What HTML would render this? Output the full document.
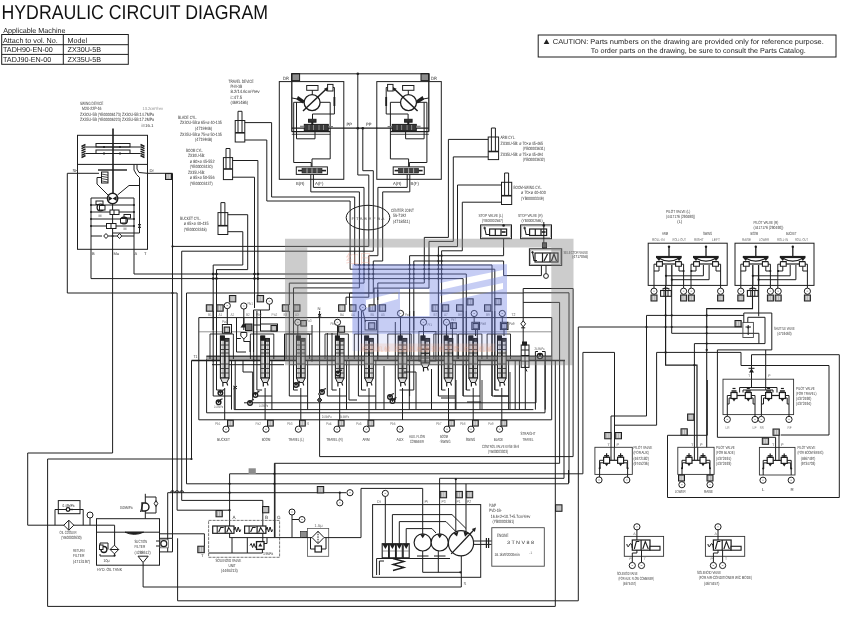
<!DOCTYPE html>
<html lang="en"><head><meta charset="utf-8"><title>HYDRAULIC CIRCUIT DIAGRAM</title>
<style>
html,body{margin:0;padding:0;background:#fff;}
body{width:868px;height:618px;overflow:hidden;position:relative;font-family:"Liberation Sans",sans-serif;}
svg{position:absolute;left:0;top:0;display:block;will-change:transform;}
svg text{font-family:"Liberation Sans",sans-serif;stroke:none;text-rendering:geometricPrecision;}
</style></head><body>
<svg width="868" height="618" viewBox="0 0 868 618" fill="none" stroke="#1e1e1e" stroke-width="1" stroke-linejoin="miter">
<text x="1.5" y="18.8" font-size="20" fill="#111" textLength="266.5" lengthAdjust="spacingAndGlyphs">HYDRAULIC CIRCUIT DIAGRAM</text>
<text x="3.2" y="33.3" font-size="7.2" fill="#222">Applicable Machine</text>
<rect x="1.7" y="34.5" width="126.6" height="29.8"/>
<polyline points="1.7,44.7 128.3,44.7"/>
<polyline points="1.7,54.4 128.3,54.4"/>
<polyline points="63.3,34.5 63.3,64.3"/>
<text x="3" y="42.6" font-size="7.2" fill="#222">Attach to vol. No.</text>
<text x="67.5" y="42.6" font-size="7.2" fill="#222">Model</text>
<text x="3" y="52.3" font-size="7.2" fill="#222">TADH90-EN-00</text>
<text x="67.5" y="52.3" font-size="7.2" fill="#222">ZX30U-5B</text>
<text x="3" y="62.1" font-size="7.2" fill="#222">TADJ90-EN-00</text>
<text x="67.5" y="62.1" font-size="7.2" fill="#222">ZX35U-5B</text>
<rect x="538.2" y="35" width="297.8" height="22"/>
<polygon points="546.5,39 549.3,44 543.7,44" fill="#222" stroke="none"/>
<text x="552.8" y="44" font-size="7.1" fill="#222" textLength="271" lengthAdjust="spacingAndGlyphs">CAUTION: Parts numbers on the drawing are provided only for reference purpose.</text>
<text x="590.8" y="52.7" font-size="7.1" fill="#222" textLength="215" lengthAdjust="spacingAndGlyphs">To order parts on the drawing, be sure to consult the Parts Catalog.</text>
<text x="80" y="104.8" font-size="4.6" fill="#333" textLength="23.4" lengthAdjust="spacingAndGlyphs">SWING DEVICE</text>
<text x="82" y="110.3" font-size="4.6" fill="#333" textLength="19.5" lengthAdjust="spacingAndGlyphs">M2X-22P-16</text>
<text x="80" y="115.8" font-size="4.6" fill="#333" textLength="74.1" lengthAdjust="spacingAndGlyphs">ZX30U-5B (YB00006173) ZX30U-5B:14.7MPa</text>
<text x="80" y="121.3" font-size="4.6" fill="#333" textLength="74.1" lengthAdjust="spacingAndGlyphs">ZX35U-5B (YB00006223) ZX35U-5B:17.2MPa</text>
<text x="142.5" y="110.3" font-size="4.4" fill="#888" textLength="20.5" lengthAdjust="spacingAndGlyphs">13.2cm³/rev</text>
<text x="141.5" y="126.6" font-size="4.4" fill="#333" textLength="12" lengthAdjust="spacingAndGlyphs">i=16.1</text>
<rect x="77.5" y="135.3" width="70" height="114"/>
<polyline points="77.5,164.4 147.5,164.4"/>
<polyline points="113,128.5 113,193.5" stroke-width="1.6"/>
<polyline points="85.5,147 140.5,147"/>
<polyline points="85.5,153.5 140.5,153.5"/>
<rect x="96" y="143.5" width="34" height="3.5"/>
<rect x="96" y="150" width="34" height="3.5"/>
<polyline points="104,146 104,148" stroke-width="1.6"/>
<polyline points="104,152.5 104,154.5" stroke-width="1.6"/>
<polyline points="120,146 120,148" stroke-width="1.6"/>
<polyline points="120,152.5 120,154.5" stroke-width="1.6"/>
<polyline points="81.5,146.5 85.5,144.5" stroke-width="1.5"/>
<polyline points="140.5,144.5 144.5,146.5" stroke-width="1.5"/>
<polyline points="81.5,148.7 85.5,146.7" stroke-width="1.5"/>
<polyline points="140.5,146.7 144.5,148.7" stroke-width="1.5"/>
<polyline points="81.5,150.9 85.5,148.9" stroke-width="1.5"/>
<polyline points="140.5,148.9 144.5,150.9" stroke-width="1.5"/>
<polyline points="81.5,153.1 85.5,151.1" stroke-width="1.5"/>
<polyline points="140.5,151.1 144.5,153.1" stroke-width="1.5"/>
<polyline points="81.5,155.3 85.5,153.3" stroke-width="1.5"/>
<polyline points="140.5,153.3 144.5,155.3" stroke-width="1.5"/>
<polyline points="81.5,157.5 85.5,155.5" stroke-width="1.5"/>
<polyline points="140.5,155.5 144.5,157.5" stroke-width="1.5"/>
<polyline points="67.3,173.3 99,173.3"/>
<polyline points="67.3,173.3 67.3,293 172.3,293"/>
<polyline points="147.5,173.3 172.5,173.3"/>
<rect x="165.5" y="173.5" width="6" height="6" fill="#ababab"/>
<polyline points="167.9,174.5 167.9,178.5" stroke-width="0.8" stroke="#e8e8e8"/>
<polyline points="169.7,174.5 169.7,178.5" stroke-width="0.8" stroke="#e8e8e8"/>
<text x="72.5" y="171.5" font-size="4.2" fill="#333">SH</text>
<text x="149.5" y="171.5" font-size="4.2" fill="#333">Dr</text>
<polyline points="98,170 127,170" stroke-width="1.4"/>
<rect x="101.5" y="172" width="6.5" height="11"/>
<polyline points="101.5,174 108,175.2" stroke-width="0.8"/>
<polyline points="101.5,176.3 108,177.5" stroke-width="0.8"/>
<polyline points="101.5,178.6 108,179.8" stroke-width="0.8"/>
<polyline points="101.5,180.9 108,182.1" stroke-width="0.8"/>
<polyline points="101.5,177.5 97,177.5 97,184 108.5,195.5"/>
<polyline points="134,164.4 134,170 136.5,174.5 139.5,177.5"/>
<polyline points="139.5,177.5 139.5,233"/>
<polyline points="137,164.4 137,169 139,172.5 147.5,173.3"/>
<polyline points="117.5,195 129,185.5 139.5,185.5"/>
<circle cx="112.6" cy="198.5" r="5.2" fill="#fff" stroke-width="1.4"/>
<polygon points="108.5,196 112.6,198.5 108.5,201" fill="#1e1e1e" stroke="none"/>
<polygon points="116.7,196 112.6,198.5 116.7,201" fill="#1e1e1e" stroke="none"/>
<polyline points="107.5,198 91,198 91,278.6"/>
<polyline points="117.7,198 134,198 134,274"/>
<polyline points="91,205 134,205"/>
<polyline points="91,212 134,212"/>
<polyline points="91,219 134,219"/>
<polyline points="91,226 134,226"/>
<polyline points="91,236 102,236"/>
<polyline points="122,236 134,236"/>
<polyline points="112.6,203.7 112.6,236"/>
<polyline points="112.6,236 112.6,453"/>
<rect x="96" y="201" width="7" height="3.5"/>
<circle cx="100.5" cy="207.5" r="3.4" fill="#fff" stroke-width="1.3"/>
<rect x="99.5" y="205.5" width="5.5" height="4.5" fill="#fff"/>
<rect x="110" y="210" width="9" height="4.5" fill="#fff"/>
<polyline points="114,210 114,214.5"/>
<circle cx="124" cy="220.5" r="3.4" fill="#fff" stroke-width="1.3"/>
<rect x="120.5" y="218.5" width="5.5" height="4.5" fill="#fff"/>
<rect x="124" y="214.5" width="6.5" height="3.5"/>
<rect x="106.5" y="223.5" width="9.5" height="5" fill="#fff"/>
<polyline points="111,223.5 111,228.5"/>
<text x="98.5" y="216.5" font-size="3.6" fill="#333">M</text>
<text x="123.5" y="230" font-size="3.6" fill="#333">M</text>
<circle cx="91" cy="205" r="1" fill="#1e1e1e" stroke="none"/>
<circle cx="134" cy="205" r="1" fill="#1e1e1e" stroke="none"/>
<circle cx="91" cy="212" r="1" fill="#1e1e1e" stroke="none"/>
<circle cx="134" cy="212" r="1" fill="#1e1e1e" stroke="none"/>
<circle cx="91" cy="219" r="1" fill="#1e1e1e" stroke="none"/>
<circle cx="134" cy="219" r="1" fill="#1e1e1e" stroke="none"/>
<circle cx="91" cy="226" r="1" fill="#1e1e1e" stroke="none"/>
<circle cx="134" cy="226" r="1" fill="#1e1e1e" stroke="none"/>
<circle cx="112.6" cy="236" r="1" fill="#1e1e1e" stroke="none"/>
<polygon points="106,233.5 108.3,236 106,238.5 103.7,236" fill="#fff"/>
<polygon points="119.5,233.5 121.8,236 119.5,238.5 117.2,236" fill="#fff"/>
<polyline points="108.3,236 117.2,236"/>
<polyline points="112.6,233 139.5,233"/>
<polyline points="138.3,224 140.7,228"/>
<polyline points="140.7,224 138.3,228"/>
<text x="92" y="255" font-size="4" fill="#333">B</text>
<text x="113.5" y="255" font-size="4" fill="#333">Mu</text>
<text x="134.5" y="255" font-size="4" fill="#333">A</text>
<text x="144" y="255" font-size="4" fill="#333">T</text>
<rect x="235.2" y="120.5" width="9.6" height="21.5" fill="#fff"/>
<polyline points="238,111.3 238,132.8"/>
<polyline points="242,111.3 242,132.8"/>
<polyline points="238,111.3 242,111.3"/>
<polyline points="235.2,132.8 244.8,132.8" stroke-width="1.6"/>
<polyline points="244.8,122.6 271.6,122.6 271.6,197 354.7,197 354.7,265 492,265 492,396"/>
<polyline points="244.8,140 266.8,140 266.8,201 350.1,201 350.1,269.2 494.8,269.2 494.8,390"/>
<text x="178" y="118.8" font-size="4.6" fill="#333" textLength="19" lengthAdjust="spacingAndGlyphs">BLADE CYL.</text>
<text x="179.9" y="124.4" font-size="4.6" fill="#333" textLength="41.8" lengthAdjust="spacingAndGlyphs">ZX30U-5B:ø 65×ø 40-135</text>
<text x="195.1" y="130" font-size="4.6" fill="#333" textLength="17.1" lengthAdjust="spacingAndGlyphs">(4719946)</text>
<text x="179.9" y="135.6" font-size="4.6" fill="#333" textLength="41.8" lengthAdjust="spacingAndGlyphs">ZX35U-5B:ø 75×ø 50-135</text>
<text x="195.1" y="141.2" font-size="4.6" fill="#333" textLength="17.1" lengthAdjust="spacingAndGlyphs">(4719948)</text>
<rect x="223.4" y="157.6" width="9.2" height="22" fill="#fff"/>
<polyline points="226,148.5 226,169"/>
<polyline points="230,148.5 230,169"/>
<polyline points="226,148.5 230,148.5"/>
<polyline points="223.4,169 232.6,169" stroke-width="1.6"/>
<polyline points="232.6,160.5 257.9,160.5 257.9,302"/>
<polyline points="232.6,177.2 254.5,177.2 254.5,308"/>
<text x="186" y="151.5" font-size="4.6" fill="#333" textLength="17.1" lengthAdjust="spacingAndGlyphs">BOOM CYL.</text>
<text x="187.9" y="157" font-size="4.6" fill="#333" textLength="17.1" lengthAdjust="spacingAndGlyphs">ZX30U-5B:</text>
<text x="189.8" y="162.5" font-size="4.6" fill="#333" textLength="24.7" lengthAdjust="spacingAndGlyphs">ø 80×ø 45-552</text>
<text x="189.8" y="168" font-size="4.6" fill="#333" textLength="22.8" lengthAdjust="spacingAndGlyphs">(YB00003430)</text>
<text x="187.9" y="173.5" font-size="4.6" fill="#333" textLength="17.1" lengthAdjust="spacingAndGlyphs">ZX35U-5B:</text>
<text x="189.8" y="179" font-size="4.6" fill="#333" textLength="24.7" lengthAdjust="spacingAndGlyphs">ø 85×ø 50-556</text>
<text x="189.8" y="184.5" font-size="4.6" fill="#333" textLength="22.8" lengthAdjust="spacingAndGlyphs">(YB00003437)</text>
<rect x="218" y="212.6" width="9.8" height="21.9" fill="#fff"/>
<polyline points="220.9,202.6 220.9,225.7"/>
<polyline points="224.9,202.6 224.9,225.7"/>
<polyline points="220.9,202.6 224.9,202.6"/>
<polyline points="218,225.7 227.8,225.7" stroke-width="1.6"/>
<polyline points="227.8,214.7 247.7,214.7 247.7,269.6 216.5,269.6 216.5,330"/>
<polyline points="227.8,231.7 242.8,231.7 242.8,265 213.2,265 213.2,330"/>
<text x="180" y="219.5" font-size="4.6" fill="#333" textLength="20.9" lengthAdjust="spacingAndGlyphs">BUCKET CYL.</text>
<text x="183.8" y="225" font-size="4.6" fill="#333" textLength="24.7" lengthAdjust="spacingAndGlyphs">ø 65×ø 40-435</text>
<text x="183.8" y="230.5" font-size="4.6" fill="#333" textLength="22.8" lengthAdjust="spacingAndGlyphs">(YB00003348)</text>
<rect x="488.2" y="137" width="10.4" height="22.6" fill="#fff"/>
<polyline points="491.4,128 491.4,151.5"/>
<polyline points="495.4,128 495.4,151.5"/>
<polyline points="491.4,128 495.4,128"/>
<polyline points="488.2,151.5 498.6,151.5" stroke-width="1.6"/>
<polyline points="488.2,139.4 448.4,139.4 448.4,237.4 424.3,237.4 424.3,283 377.8,283 377.8,300"/>
<polyline points="488.2,156.9 453.3,156.9 453.3,241.4 429,241.4 429,288.1 374,288.1 374,305"/>
<text x="500.5" y="139" font-size="4.6" fill="#333" textLength="14.8" lengthAdjust="spacingAndGlyphs">ARM CYL.</text>
<text x="500.5" y="144.5" font-size="4.6" fill="#333" textLength="42.6" lengthAdjust="spacingAndGlyphs">ZX30U-5B: ø 70×ø 45-465</text>
<text x="522.7" y="150" font-size="4.6" fill="#333" textLength="22.2" lengthAdjust="spacingAndGlyphs">(YB00003631)</text>
<text x="500.5" y="155.5" font-size="4.6" fill="#333" textLength="42.6" lengthAdjust="spacingAndGlyphs">ZX35U-5B: ø 75×ø 45-494</text>
<text x="522.7" y="161" font-size="4.6" fill="#333" textLength="22.2" lengthAdjust="spacingAndGlyphs">(YB00003632)</text>
<rect x="501.5" y="182.3" width="10.2" height="22.2" fill="#fff"/>
<polyline points="504.6,173 504.6,195.7"/>
<polyline points="508.6,173 508.6,195.7"/>
<polyline points="504.6,173 508.6,173"/>
<polyline points="501.5,195.7 511.7,195.7" stroke-width="1.6"/>
<polyline points="501.5,185 457.5,185 457.5,246.6 438.4,246.6 438.4,396"/>
<polyline points="501.5,202.2 462.3,202.2 462.3,250.8 441.6,250.8 441.6,390"/>
<text x="513.5" y="188.5" font-size="4.6" fill="#333" textLength="28.5" lengthAdjust="spacingAndGlyphs">BOOM-SWING CYL.</text>
<text x="521.1" y="194" font-size="4.6" fill="#333" textLength="24.7" lengthAdjust="spacingAndGlyphs">ø 70×ø 40-400</text>
<text x="521.1" y="199.5" font-size="4.6" fill="#333" textLength="22.8" lengthAdjust="spacingAndGlyphs">(YB00003349)</text>
<text x="228.5" y="82.5" font-size="4.6" fill="#333" textLength="25.3" lengthAdjust="spacingAndGlyphs">TRAVEL DEVICE</text>
<text x="230.4" y="87.9" font-size="4.6" fill="#333" textLength="11.7" lengthAdjust="spacingAndGlyphs">PHV-3B</text>
<text x="230.4" y="93.3" font-size="4.6" fill="#333" textLength="29.2" lengthAdjust="spacingAndGlyphs">8.2/14.6cm³/rev</text>
<text x="230.4" y="98.7" font-size="4.6" fill="#333" textLength="11.7" lengthAdjust="spacingAndGlyphs">i=47.5</text>
<text x="230.4" y="104.1" font-size="4.6" fill="#333" textLength="17.6" lengthAdjust="spacingAndGlyphs">(4691486)</text>
<rect x="279.3" y="81.6" width="64.5" height="97.7"/>
<rect x="291.6" y="73.6" width="8" height="7" fill="#8c8c8c"/>
<polyline points="291.8,73.8 291.8,131.7" stroke-width="1.3"/>
<circle cx="312.1" cy="102.6" r="8" fill="#fff" stroke-width="1.3"/>
<polyline points="303,111 327.6,87.7" stroke-width="1.5"/>
<polygon points="328.6,87 326.7,91.5 324,88.8" fill="#1e1e1e" stroke="none"/>
<rect x="306.7" y="85.5" width="11.3" height="4.8" fill="#fff"/>
<polyline points="312.3,90.3 312.3,94.6"/>
<rect x="327.6" y="84.4" width="5.4" height="6.6" fill="#fff"/>
<polyline points="333,87.5 334.4,87.5 334.4,114 312.5,114 312.5,119"/>
<polyline points="334.4,97 334.4,106" stroke-width="1.8"/>
<polyline points="320.1,102.3 330.2,102.3 330.2,158.9 312,158.9 312,167"/>
<polyline points="304.1,102.3 293.7,102.3 293.7,162.5 311.2,162.5 311.2,167"/>
<polyline points="296.5,102.3 296.5,138.8 315,138.8 315,131"/>
<polyline points="291.8,98 300.5,99.5"/>
<polygon points="298,96 304.5,100.5 303,103.5 296.5,99.5" fill="#1e1e1e" stroke="none"/>
<polyline points="291.8,128.2 344,128.2" stroke-width="1.3"/>
<polyline points="291.8,131.7 330.2,131.7" stroke-width="1.2"/>
<polyline points="291.8,134.3 330.2,134.3" stroke-width="0.8"/>
<rect x="304.3" y="124.4" width="24" height="6.2" fill="#3a3a3a"/>
<polyline points="309,125 309,130" stroke-width="0.8" stroke="#999"/>
<polyline points="313.5,125 313.5,130" stroke-width="0.8" stroke="#999"/>
<polyline points="319,125 319,130" stroke-width="0.8" stroke="#999"/>
<polyline points="323.5,125 323.5,130" stroke-width="0.8" stroke="#999"/>
<polyline points="300,126.8 304.3,126.8" stroke-width="2.2" stroke="#888"/>
<polyline points="328.3,126.8 333,126.8" stroke-width="1.5" stroke="#777"/>
<rect x="308.5" y="119.3" width="7.5" height="2.9" fill="#333"/>
<polyline points="312.3,122 312.3,125" stroke-width="2"/>
<rect x="296.3" y="166.9" width="31.1" height="7.5" fill="#fff"/>
<rect x="302" y="168.3" width="20" height="4.7" fill="#444" stroke-width="0.6"/>
<polyline points="298,170.6 302,170.6" stroke-width="1.6"/>
<polyline points="322,170.6 326,170.6" stroke-width="1.6"/>
<polyline points="307,168.3 307,173" stroke-width="0.7" stroke="#ddd"/>
<polyline points="312,168.3 312,173" stroke-width="0.7" stroke="#ddd"/>
<polyline points="317,168.3 317,173" stroke-width="0.7" stroke="#ddd"/>
<polyline points="310.8,174.4 310.8,191.9 359.4,191.9 359.4,287.9 293.5,287.9 293.5,305"/>
<polyline points="313.4,174.4 313.4,187.4 364,187.4 364,283.1 289.3,283.1 289.3,305"/>
<text x="296" y="185" font-size="4.4" fill="#333" textLength="8.5" lengthAdjust="spacingAndGlyphs">B(R)</text>
<text x="315" y="185" font-size="4.4" fill="#333" textLength="8.5" lengthAdjust="spacingAndGlyphs">A(F)</text>
<text x="283" y="79.5" font-size="4.6" fill="#333" textLength="6" lengthAdjust="spacingAndGlyphs">DR</text>
<rect x="376.8" y="81.6" width="64.5" height="97.7"/>
<rect x="421" y="73.6" width="8" height="7" fill="#8c8c8c"/>
<polyline points="428.8,73.8 428.8,131.7" stroke-width="1.3"/>
<circle cx="408.5" cy="102.6" r="8" fill="#fff" stroke-width="1.3"/>
<polyline points="417.6,111 393,87.7" stroke-width="1.5"/>
<polygon points="392,87 393.9,91.5 396.6,88.8" fill="#1e1e1e" stroke="none"/>
<rect x="402.6" y="85.5" width="11.3" height="4.8" fill="#fff"/>
<polyline points="408.3,90.3 408.3,94.6"/>
<rect x="387.6" y="84.4" width="5.4" height="6.6" fill="#fff"/>
<polyline points="387.6,87.5 386.2,87.5 386.2,114 408.1,114 408.1,119"/>
<polyline points="386.2,97 386.2,106" stroke-width="1.8"/>
<polyline points="400.5,102.3 390.4,102.3 390.4,158.9 408.6,158.9 408.6,167"/>
<polyline points="416.5,102.3 426.9,102.3 426.9,162.5 409.4,162.5 409.4,167"/>
<polyline points="424.1,102.3 424.1,138.8 405.6,138.8 405.6,131"/>
<polyline points="428.8,98 420.1,99.5"/>
<polygon points="422.6,96 416.1,100.5 417.6,103.5 424.1,99.5" fill="#1e1e1e" stroke="none"/>
<polyline points="428.8,128.2 376.6,128.2" stroke-width="1.3"/>
<polyline points="428.8,131.7 390.4,131.7" stroke-width="1.2"/>
<polyline points="428.8,134.3 390.4,134.3" stroke-width="0.8"/>
<rect x="392.3" y="124.4" width="24" height="6.2" fill="#3a3a3a"/>
<polyline points="411.6,125 411.6,130" stroke-width="0.8" stroke="#999"/>
<polyline points="407.1,125 407.1,130" stroke-width="0.8" stroke="#999"/>
<polyline points="401.6,125 401.6,130" stroke-width="0.8" stroke="#999"/>
<polyline points="397.1,125 397.1,130" stroke-width="0.8" stroke="#999"/>
<polyline points="420.6,126.8 416.3,126.8" stroke-width="2.2" stroke="#888"/>
<polyline points="392.3,126.8 387.6,126.8" stroke-width="1.5" stroke="#777"/>
<rect x="404.6" y="119.3" width="7.5" height="2.9" fill="#333"/>
<polyline points="408.3,122 408.3,125" stroke-width="2"/>
<rect x="393.2" y="166.9" width="31.1" height="7.5" fill="#fff"/>
<rect x="398.6" y="168.3" width="20" height="4.7" fill="#444" stroke-width="0.6"/>
<polyline points="422.6,170.6 418.6,170.6" stroke-width="1.6"/>
<polyline points="398.6,170.6 394.6,170.6" stroke-width="1.6"/>
<polyline points="413.6,168.3 413.6,173" stroke-width="0.7" stroke="#ddd"/>
<polyline points="408.6,168.3 408.6,173" stroke-width="0.7" stroke="#ddd"/>
<polyline points="403.6,168.3 403.6,173" stroke-width="0.7" stroke="#ddd"/>
<polyline points="409.8,174.4 409.8,191.9 382.7,191.9 382.7,261 373.3,261 373.3,293 349.5,293 349.5,305"/>
<polyline points="407.2,174.4 407.2,187.4 377.9,187.4 377.9,255.7 368.8,255.7 368.8,297.2 346,297.2 346,305"/>
<text x="393" y="185" font-size="4.4" fill="#333" textLength="8.5" lengthAdjust="spacingAndGlyphs">A(R)</text>
<text x="410.5" y="185" font-size="4.4" fill="#333" textLength="8.5" lengthAdjust="spacingAndGlyphs">B(F)</text>
<text x="431" y="79.5" font-size="4.6" fill="#333" textLength="6" lengthAdjust="spacingAndGlyphs">DR</text>
<polyline points="291.8,73.8 428.8,73.8"/>
<polyline points="357.8,73.8 357.8,175 368.8,175 368.8,246.4 172.3,246.4"/>
<polyline points="362.8,128.2 362.8,170.7 373.3,170.7 373.3,251.2 181.7,251.2 181.7,500.4 262.8,500.4 262.8,526"/>
<polyline points="343.8,128.2 377.2,128.2" stroke-width="1.2"/>
<circle cx="357.8" cy="128.2" r="1.3" fill="#1e1e1e" stroke="none"/>
<circle cx="362.8" cy="128.2" r="1.3" fill="#1e1e1e" stroke="none"/>
<circle cx="357.8" cy="73.8" r="1.3" fill="#1e1e1e" stroke="none"/>
<text x="346.5" y="125.5" font-size="4.6" fill="#333" textLength="5.5" lengthAdjust="spacingAndGlyphs">PP</text>
<text x="366" y="125.5" font-size="4.6" fill="#333" textLength="5.5" lengthAdjust="spacingAndGlyphs">PP</text>
<polyline points="271.6,197 271.6,197"/>
<ellipse cx="368" cy="217.6" rx="21.8" ry="12.3"/>
<text x="391" y="212" font-size="4.6" fill="#333" textLength="22.8" lengthAdjust="spacingAndGlyphs">CENTER JOINT</text>
<text x="392.9" y="217.4" font-size="4.6" fill="#333" textLength="13.3" lengthAdjust="spacingAndGlyphs">5S-7192</text>
<text x="392.9" y="222.8" font-size="4.6" fill="#333" textLength="17.1" lengthAdjust="spacingAndGlyphs">(4718511)</text>
<text x="351.5" y="219.5" font-size="4.2" fill="#555" textLength="33" lengthAdjust="spacingAndGlyphs">F  T  A  B  E  F  B  A</text>
<polyline points="409.6,330 409.6,255.7 503.6,255.7 503.6,238.7"/>
<polyline points="413.8,330 413.8,261 503.6,261 503.6,275.6 541.4,275.6 541.4,265.4"/>
<polyline points="134,274 466.3,274 466.3,390"/>
<polyline points="91,278.6 463.1,278.6 463.1,396"/>
<circle cx="359.4" cy="265" r="1.1" fill="#1e1e1e" stroke="none"/>
<circle cx="359.4" cy="269.2" r="1.1" fill="#1e1e1e" stroke="none"/>
<circle cx="359.4" cy="274" r="1.1" fill="#1e1e1e" stroke="none"/>
<circle cx="359.4" cy="278.6" r="1.1" fill="#1e1e1e" stroke="none"/>
<circle cx="364" cy="265" r="1.1" fill="#1e1e1e" stroke="none"/>
<circle cx="364" cy="269.2" r="1.1" fill="#1e1e1e" stroke="none"/>
<circle cx="364" cy="274" r="1.1" fill="#1e1e1e" stroke="none"/>
<circle cx="364" cy="278.6" r="1.1" fill="#1e1e1e" stroke="none"/>
<circle cx="368.8" cy="265" r="1.1" fill="#1e1e1e" stroke="none"/>
<circle cx="368.8" cy="269.2" r="1.1" fill="#1e1e1e" stroke="none"/>
<circle cx="368.8" cy="274" r="1.1" fill="#1e1e1e" stroke="none"/>
<circle cx="368.8" cy="278.6" r="1.1" fill="#1e1e1e" stroke="none"/>
<circle cx="373.3" cy="265" r="1.1" fill="#1e1e1e" stroke="none"/>
<circle cx="373.3" cy="269.2" r="1.1" fill="#1e1e1e" stroke="none"/>
<circle cx="373.3" cy="274" r="1.1" fill="#1e1e1e" stroke="none"/>
<circle cx="373.3" cy="278.6" r="1.1" fill="#1e1e1e" stroke="none"/>
<circle cx="409.6" cy="265" r="1.1" fill="#1e1e1e" stroke="none"/>
<circle cx="409.6" cy="269.2" r="1.1" fill="#1e1e1e" stroke="none"/>
<circle cx="409.6" cy="274" r="1.1" fill="#1e1e1e" stroke="none"/>
<circle cx="409.6" cy="278.6" r="1.1" fill="#1e1e1e" stroke="none"/>
<circle cx="413.8" cy="265" r="1.1" fill="#1e1e1e" stroke="none"/>
<circle cx="413.8" cy="269.2" r="1.1" fill="#1e1e1e" stroke="none"/>
<circle cx="413.8" cy="274" r="1.1" fill="#1e1e1e" stroke="none"/>
<circle cx="413.8" cy="278.6" r="1.1" fill="#1e1e1e" stroke="none"/>
<circle cx="424.3" cy="265" r="1.1" fill="#1e1e1e" stroke="none"/>
<circle cx="424.3" cy="269.2" r="1.1" fill="#1e1e1e" stroke="none"/>
<circle cx="424.3" cy="274" r="1.1" fill="#1e1e1e" stroke="none"/>
<circle cx="424.3" cy="278.6" r="1.1" fill="#1e1e1e" stroke="none"/>
<circle cx="429" cy="265" r="1.1" fill="#1e1e1e" stroke="none"/>
<circle cx="429" cy="269.2" r="1.1" fill="#1e1e1e" stroke="none"/>
<circle cx="429" cy="274" r="1.1" fill="#1e1e1e" stroke="none"/>
<circle cx="429" cy="278.6" r="1.1" fill="#1e1e1e" stroke="none"/>
<circle cx="438.4" cy="255.7" r="1.1" fill="#1e1e1e" stroke="none"/>
<circle cx="438.4" cy="261" r="1.1" fill="#1e1e1e" stroke="none"/>
<circle cx="438.4" cy="265" r="1.1" fill="#1e1e1e" stroke="none"/>
<circle cx="438.4" cy="269.2" r="1.1" fill="#1e1e1e" stroke="none"/>
<circle cx="438.4" cy="274" r="1.1" fill="#1e1e1e" stroke="none"/>
<circle cx="438.4" cy="278.6" r="1.1" fill="#1e1e1e" stroke="none"/>
<circle cx="441.6" cy="255.7" r="1.1" fill="#1e1e1e" stroke="none"/>
<circle cx="441.6" cy="261" r="1.1" fill="#1e1e1e" stroke="none"/>
<circle cx="441.6" cy="265" r="1.1" fill="#1e1e1e" stroke="none"/>
<circle cx="441.6" cy="269.2" r="1.1" fill="#1e1e1e" stroke="none"/>
<circle cx="441.6" cy="274" r="1.1" fill="#1e1e1e" stroke="none"/>
<circle cx="441.6" cy="278.6" r="1.1" fill="#1e1e1e" stroke="none"/>
<circle cx="254.5" cy="274" r="1.3" fill="#1e1e1e" stroke="none"/>
<circle cx="257.9" cy="274" r="1.3" fill="#1e1e1e" stroke="none"/>
<circle cx="254.5" cy="278.6" r="1.3" fill="#1e1e1e" stroke="none"/>
<circle cx="257.9" cy="278.6" r="1.3" fill="#1e1e1e" stroke="none"/>
<circle cx="213.2" cy="274" r="1.3" fill="#1e1e1e" stroke="none"/>
<circle cx="216.5" cy="274" r="1.3" fill="#1e1e1e" stroke="none"/>
<circle cx="213.2" cy="278.6" r="1.3" fill="#1e1e1e" stroke="none"/>
<circle cx="216.5" cy="278.6" r="1.3" fill="#1e1e1e" stroke="none"/>
<rect x="480.6" y="224.9" width="30.9" height="13.8" fill="#fff"/>
<rect x="481.8" y="226" width="28.5" height="11.6" stroke-width="0.5" stroke="#777"/>
<rect x="489.6" y="229" width="17" height="6.5" stroke-width="1.2"/>
<polyline points="495.3,229 495.3,235.5" stroke-width="1.2"/>
<polyline points="501,229 501,235.5" stroke-width="1.2"/>
<polyline points="484.6,227.5 486.1,234.5 489.6,234.5" stroke-width="1.1"/>
<circle cx="484.6" cy="228" r="0.8"/>
<polyline points="501.6,232 505.6,232" stroke-width="1.6"/>
<rect x="520.6" y="224.9" width="30.9" height="13.8" fill="#fff"/>
<rect x="521.8" y="226" width="28.5" height="11.6" stroke-width="0.5" stroke="#777"/>
<rect x="529.6" y="229" width="17" height="6.5" stroke-width="1.2"/>
<polyline points="535.3,229 535.3,235.5" stroke-width="1.2"/>
<polyline points="541,229 541,235.5" stroke-width="1.2"/>
<polyline points="524.6,227.5 526.1,234.5 529.6,234.5" stroke-width="1.1"/>
<circle cx="524.6" cy="228" r="0.8"/>
<polyline points="541.6,232 545.6,232" stroke-width="1.6"/>
<circle cx="503.6" cy="225.5" r="1.3" fill="#1e1e1e" stroke="none"/>
<circle cx="543.8" cy="225.5" r="1.3" fill="#1e1e1e" stroke="none"/>
<text x="478.5" y="217" font-size="4.4" fill="#333" textLength="24.5" lengthAdjust="spacingAndGlyphs">STOP VALVE (L)</text>
<text x="482" y="221.8" font-size="4.4" fill="#333" textLength="21" lengthAdjust="spacingAndGlyphs">(YB00002587)</text>
<text x="518" y="217" font-size="4.4" fill="#333" textLength="24.5" lengthAdjust="spacingAndGlyphs">STOP VALVE (R)</text>
<text x="521.5" y="221.8" font-size="4.4" fill="#333" textLength="21" lengthAdjust="spacingAndGlyphs">(YB00002586)</text>
<polyline points="543.8,222 543.8,248.8"/>
<rect x="542.5" y="242.8" width="4" height="5.2" fill="#555"/>
<rect x="529.4" y="248.8" width="32.3" height="16.6" fill="#fff"/>
<rect x="530.6" y="250" width="29.9" height="14.2" stroke-width="0.5" stroke="#777"/>
<rect x="535" y="253" width="23" height="9" stroke-width="1.2"/>
<polyline points="542.5,253 542.5,262" stroke-width="1.2"/>
<polyline points="550,253 550,262" stroke-width="1.2"/>
<polyline points="532.5,252 534,260.5 537,260.5" stroke-width="1.1"/>
<circle cx="532.5" cy="252.3" r="0.8"/>
<polyline points="544,261 547.5,254" stroke-width="1.2"/>
<polyline points="551.5,261 554,254 556.5,261" stroke-width="1.2"/>
<polyline points="546,265.4 546,273.6"/>
<circle cx="546" cy="276" r="2.4" fill="#fff"/>
<text x="563.5" y="253.5" font-size="4.4" fill="#333" textLength="24.5" lengthAdjust="spacingAndGlyphs">SELECTOR VALVE</text>
<text x="572.2" y="258.3" font-size="4.4" fill="#333" textLength="15.8" lengthAdjust="spacingAndGlyphs">(4717058)</text>
<polyline points="551.8,361 551.8,317.6 198.8,317.6 198.8,419.8 551.7,419.8 551.7,361"/>
<polyline points="206.6,359 206.6,412.8 545,412.8 545,361"/>
<polyline points="234.2,386 234.2,409.6 533.4,409.6"/>
<polyline points="244,402.8 536,402.8 536,361"/>
<polyline points="199,331.8 551.8,331.8" stroke-width="0.7" stroke="#666"/>
<rect x="206.6" y="356" width="345.1" height="4.8" fill="#a9a9a9" stroke-width="0.5" stroke="#666"/>
<polyline points="191.5,360.5 565,360.5" stroke-width="1.4"/>
<polyline points="212,364.7 284,364.7"/>
<polyline points="290,364.7 500,364.7" stroke-width="0.8"/>
<text x="193.5" y="357.5" font-size="4.4" fill="#333" textLength="4" lengthAdjust="spacingAndGlyphs">T1</text>
<rect x="220.4" y="336" width="3.9" height="42" fill="#ececec" stroke-width="1.1"/>
<rect x="225.1" y="338.5" width="3.9" height="39.5" fill="#ececec" stroke-width="1.1"/>
<polyline points="222.3,340 222.3,378" stroke-width="0.6" stroke="#999"/>
<polyline points="227.1,341 227.1,378" stroke-width="0.6" stroke="#999"/>
<rect x="220.4" y="336" width="3.9" height="4.5" fill="#1e1e1e" stroke-width="0.6"/>
<rect x="225.5" y="338.5" width="3.1" height="3" fill="#444" stroke-width="0.5"/>
<polyline points="220.4,345 229,345" stroke-width="0.9" stroke="#333"/>
<polyline points="220.4,349.5 229,349.5" stroke-width="0.9" stroke="#333"/>
<polyline points="220.4,353 229,353" stroke-width="0.9" stroke="#333"/>
<polyline points="220.4,364 229,364" stroke-width="0.9" stroke="#333"/>
<polyline points="220.4,368.5 229,368.5" stroke-width="0.9" stroke="#333"/>
<polyline points="220.4,373 229,373" stroke-width="0.9" stroke="#333"/>
<polygon points="220.4,378 229,378 226.9,382.5 222.5,382.5" fill="#ddd"/>
<polyline points="222.9,382.5 222.9,386.5" stroke-width="1.2"/>
<polyline points="226.7,382.5 227.7,385.5" stroke-width="1.1"/>
<rect x="260.8" y="336" width="3.9" height="42" fill="#ececec" stroke-width="1.1"/>
<rect x="265.5" y="338.5" width="3.9" height="39.5" fill="#ececec" stroke-width="1.1"/>
<polyline points="262.7,340 262.7,378" stroke-width="0.6" stroke="#999"/>
<polyline points="267.5,341 267.5,378" stroke-width="0.6" stroke="#999"/>
<rect x="260.8" y="336" width="3.9" height="4.5" fill="#1e1e1e" stroke-width="0.6"/>
<rect x="265.9" y="338.5" width="3.1" height="3" fill="#444" stroke-width="0.5"/>
<polyline points="260.8,345 269.4,345" stroke-width="0.9" stroke="#333"/>
<polyline points="260.8,349.5 269.4,349.5" stroke-width="0.9" stroke="#333"/>
<polyline points="260.8,353 269.4,353" stroke-width="0.9" stroke="#333"/>
<polyline points="260.8,364 269.4,364" stroke-width="0.9" stroke="#333"/>
<polyline points="260.8,368.5 269.4,368.5" stroke-width="0.9" stroke="#333"/>
<polyline points="260.8,373 269.4,373" stroke-width="0.9" stroke="#333"/>
<polygon points="260.8,378 269.4,378 267.3,382.5 262.9,382.5" fill="#ddd"/>
<polyline points="263.3,382.5 263.3,386.5" stroke-width="1.2"/>
<polyline points="267.1,382.5 268.1,385.5" stroke-width="1.1"/>
<rect x="296.5" y="336" width="3.9" height="42" fill="#ececec" stroke-width="1.1"/>
<rect x="301.2" y="338.5" width="3.9" height="39.5" fill="#ececec" stroke-width="1.1"/>
<polyline points="298.4,340 298.4,378" stroke-width="0.6" stroke="#999"/>
<polyline points="303.2,341 303.2,378" stroke-width="0.6" stroke="#999"/>
<rect x="296.5" y="336" width="3.9" height="4.5" fill="#1e1e1e" stroke-width="0.6"/>
<rect x="301.6" y="338.5" width="3.1" height="3" fill="#444" stroke-width="0.5"/>
<polyline points="296.5,345 305.1,345" stroke-width="0.9" stroke="#333"/>
<polyline points="296.5,349.5 305.1,349.5" stroke-width="0.9" stroke="#333"/>
<polyline points="296.5,353 305.1,353" stroke-width="0.9" stroke="#333"/>
<polyline points="296.5,364 305.1,364" stroke-width="0.9" stroke="#333"/>
<polyline points="296.5,368.5 305.1,368.5" stroke-width="0.9" stroke="#333"/>
<polyline points="296.5,373 305.1,373" stroke-width="0.9" stroke="#333"/>
<polygon points="296.5,378 305.1,378 303,382.5 298.6,382.5" fill="#ddd"/>
<polyline points="299,382.5 299,386.5" stroke-width="1.2"/>
<polyline points="302.8,382.5 303.8,385.5" stroke-width="1.1"/>
<rect x="335.4" y="336" width="3.9" height="42" fill="#ececec" stroke-width="1.1"/>
<rect x="340.1" y="338.5" width="3.9" height="39.5" fill="#ececec" stroke-width="1.1"/>
<polyline points="337.3,340 337.3,378" stroke-width="0.6" stroke="#999"/>
<polyline points="342.1,341 342.1,378" stroke-width="0.6" stroke="#999"/>
<rect x="335.4" y="336" width="3.9" height="4.5" fill="#1e1e1e" stroke-width="0.6"/>
<rect x="340.5" y="338.5" width="3.1" height="3" fill="#444" stroke-width="0.5"/>
<polyline points="335.4,345 344,345" stroke-width="0.9" stroke="#333"/>
<polyline points="335.4,349.5 344,349.5" stroke-width="0.9" stroke="#333"/>
<polyline points="335.4,353 344,353" stroke-width="0.9" stroke="#333"/>
<polyline points="335.4,364 344,364" stroke-width="0.9" stroke="#333"/>
<polyline points="335.4,368.5 344,368.5" stroke-width="0.9" stroke="#333"/>
<polyline points="335.4,373 344,373" stroke-width="0.9" stroke="#333"/>
<polygon points="335.4,378 344,378 341.9,382.5 337.5,382.5" fill="#ddd"/>
<polyline points="337.9,382.5 337.9,386.5" stroke-width="1.2"/>
<polyline points="341.7,382.5 342.7,385.5" stroke-width="1.1"/>
<rect x="364.7" y="336" width="3.9" height="42" fill="#ececec" stroke-width="1.1"/>
<rect x="369.4" y="338.5" width="3.9" height="39.5" fill="#ececec" stroke-width="1.1"/>
<polyline points="366.6,340 366.6,378" stroke-width="0.6" stroke="#999"/>
<polyline points="371.4,341 371.4,378" stroke-width="0.6" stroke="#999"/>
<rect x="364.7" y="336" width="3.9" height="4.5" fill="#1e1e1e" stroke-width="0.6"/>
<rect x="369.8" y="338.5" width="3.1" height="3" fill="#444" stroke-width="0.5"/>
<polyline points="364.7,345 373.3,345" stroke-width="0.9" stroke="#333"/>
<polyline points="364.7,349.5 373.3,349.5" stroke-width="0.9" stroke="#333"/>
<polyline points="364.7,353 373.3,353" stroke-width="0.9" stroke="#333"/>
<polyline points="364.7,364 373.3,364" stroke-width="0.9" stroke="#333"/>
<polyline points="364.7,368.5 373.3,368.5" stroke-width="0.9" stroke="#333"/>
<polyline points="364.7,373 373.3,373" stroke-width="0.9" stroke="#333"/>
<polygon points="364.7,378 373.3,378 371.2,382.5 366.8,382.5" fill="#ddd"/>
<polyline points="367.2,382.5 367.2,386.5" stroke-width="1.2"/>
<polyline points="371,382.5 372,385.5" stroke-width="1.1"/>
<rect x="398.2" y="336" width="3.9" height="42" fill="#ececec" stroke-width="1.1"/>
<rect x="402.9" y="338.5" width="3.9" height="39.5" fill="#ececec" stroke-width="1.1"/>
<polyline points="400.1,340 400.1,378" stroke-width="0.6" stroke="#999"/>
<polyline points="404.9,341 404.9,378" stroke-width="0.6" stroke="#999"/>
<rect x="398.2" y="336" width="3.9" height="4.5" fill="#1e1e1e" stroke-width="0.6"/>
<rect x="403.3" y="338.5" width="3.1" height="3" fill="#444" stroke-width="0.5"/>
<polyline points="398.2,345 406.8,345" stroke-width="0.9" stroke="#333"/>
<polyline points="398.2,349.5 406.8,349.5" stroke-width="0.9" stroke="#333"/>
<polyline points="398.2,353 406.8,353" stroke-width="0.9" stroke="#333"/>
<polyline points="398.2,364 406.8,364" stroke-width="0.9" stroke="#333"/>
<polyline points="398.2,368.5 406.8,368.5" stroke-width="0.9" stroke="#333"/>
<polyline points="398.2,373 406.8,373" stroke-width="0.9" stroke="#333"/>
<polygon points="398.2,378 406.8,378 404.7,382.5 400.3,382.5" fill="#ddd"/>
<polyline points="400.7,382.5 400.7,386.5" stroke-width="1.2"/>
<polyline points="404.5,382.5 405.5,385.5" stroke-width="1.1"/>
<rect x="444.2" y="336" width="3.9" height="42" fill="#ececec" stroke-width="1.1"/>
<rect x="448.9" y="338.5" width="3.9" height="39.5" fill="#ececec" stroke-width="1.1"/>
<polyline points="446.1,340 446.1,378" stroke-width="0.6" stroke="#999"/>
<polyline points="450.9,341 450.9,378" stroke-width="0.6" stroke="#999"/>
<rect x="444.2" y="336" width="3.9" height="4.5" fill="#1e1e1e" stroke-width="0.6"/>
<rect x="449.3" y="338.5" width="3.1" height="3" fill="#444" stroke-width="0.5"/>
<polyline points="444.2,345 452.8,345" stroke-width="0.9" stroke="#333"/>
<polyline points="444.2,349.5 452.8,349.5" stroke-width="0.9" stroke="#333"/>
<polyline points="444.2,353 452.8,353" stroke-width="0.9" stroke="#333"/>
<polyline points="444.2,364 452.8,364" stroke-width="0.9" stroke="#333"/>
<polyline points="444.2,368.5 452.8,368.5" stroke-width="0.9" stroke="#333"/>
<polyline points="444.2,373 452.8,373" stroke-width="0.9" stroke="#333"/>
<polygon points="444.2,378 452.8,378 450.7,382.5 446.3,382.5" fill="#ddd"/>
<polyline points="446.7,382.5 446.7,386.5" stroke-width="1.2"/>
<polyline points="450.5,382.5 451.5,385.5" stroke-width="1.1"/>
<rect x="468.9" y="336" width="3.9" height="42" fill="#ececec" stroke-width="1.1"/>
<rect x="473.6" y="338.5" width="3.9" height="39.5" fill="#ececec" stroke-width="1.1"/>
<polyline points="470.8,340 470.8,378" stroke-width="0.6" stroke="#999"/>
<polyline points="475.6,341 475.6,378" stroke-width="0.6" stroke="#999"/>
<rect x="468.9" y="336" width="3.9" height="4.5" fill="#1e1e1e" stroke-width="0.6"/>
<rect x="474" y="338.5" width="3.1" height="3" fill="#444" stroke-width="0.5"/>
<polyline points="468.9,345 477.5,345" stroke-width="0.9" stroke="#333"/>
<polyline points="468.9,349.5 477.5,349.5" stroke-width="0.9" stroke="#333"/>
<polyline points="468.9,353 477.5,353" stroke-width="0.9" stroke="#333"/>
<polyline points="468.9,364 477.5,364" stroke-width="0.9" stroke="#333"/>
<polyline points="468.9,368.5 477.5,368.5" stroke-width="0.9" stroke="#333"/>
<polyline points="468.9,373 477.5,373" stroke-width="0.9" stroke="#333"/>
<polygon points="468.9,378 477.5,378 475.4,382.5 471,382.5" fill="#ddd"/>
<polyline points="471.4,382.5 471.4,386.5" stroke-width="1.2"/>
<polyline points="475.2,382.5 476.2,385.5" stroke-width="1.1"/>
<rect x="497.5" y="336" width="3.9" height="42" fill="#ececec" stroke-width="1.1"/>
<rect x="502.2" y="338.5" width="3.9" height="39.5" fill="#ececec" stroke-width="1.1"/>
<polyline points="499.4,340 499.4,378" stroke-width="0.6" stroke="#999"/>
<polyline points="504.2,341 504.2,378" stroke-width="0.6" stroke="#999"/>
<rect x="497.5" y="336" width="3.9" height="4.5" fill="#1e1e1e" stroke-width="0.6"/>
<rect x="502.6" y="338.5" width="3.1" height="3" fill="#444" stroke-width="0.5"/>
<polyline points="497.5,345 506.1,345" stroke-width="0.9" stroke="#333"/>
<polyline points="497.5,349.5 506.1,349.5" stroke-width="0.9" stroke="#333"/>
<polyline points="497.5,353 506.1,353" stroke-width="0.9" stroke="#333"/>
<polyline points="497.5,364 506.1,364" stroke-width="0.9" stroke="#333"/>
<polyline points="497.5,368.5 506.1,368.5" stroke-width="0.9" stroke="#333"/>
<polyline points="497.5,373 506.1,373" stroke-width="0.9" stroke="#333"/>
<polygon points="497.5,378 506.1,378 504,382.5 499.6,382.5" fill="#ddd"/>
<polyline points="500,382.5 500,386.5" stroke-width="1.2"/>
<polyline points="503.8,382.5 504.8,385.5" stroke-width="1.1"/>
<rect x="421" y="336" width="3.9" height="27" fill="#ececec" stroke-width="1.1"/>
<rect x="425.7" y="338.5" width="3.9" height="24.5" fill="#ececec" stroke-width="1.1"/>
<polyline points="422.9,340 422.9,363" stroke-width="0.6" stroke="#999"/>
<polyline points="427.7,341 427.7,363" stroke-width="0.6" stroke="#999"/>
<rect x="421" y="336" width="3.9" height="4.5" fill="#1e1e1e" stroke-width="0.6"/>
<rect x="426.1" y="338.5" width="3.1" height="3" fill="#444" stroke-width="0.5"/>
<polyline points="421,345 429.6,345" stroke-width="0.9" stroke="#333"/>
<polyline points="421,349.5 429.6,349.5" stroke-width="0.9" stroke="#333"/>
<polyline points="421,353 429.6,353" stroke-width="0.9" stroke="#333"/>
<polyline points="421,349 429.6,349" stroke-width="0.9" stroke="#333"/>
<polyline points="421,353.5 429.6,353.5" stroke-width="0.9" stroke="#333"/>
<polyline points="421,358 429.6,358" stroke-width="0.9" stroke="#333"/>
<polygon points="421,363 429.6,363 427.5,367.5 423.1,367.5" fill="#ddd"/>
<polyline points="423.5,367.5 423.5,371.5" stroke-width="1.2"/>
<polyline points="427.3,367.5 428.3,370.5" stroke-width="1.1"/>
<rect x="521.2" y="345" width="7.8" height="22.4" fill="#fff"/>
<polyline points="521.2,350 529,350"/>
<polyline points="521.2,355.5 529,355.5"/>
<polyline points="521.2,361 529,361"/>
<rect x="522.5" y="342" width="4" height="3" fill="#222"/>
<polyline points="525,367.4 527,371.5"/>
<polyline points="525,345 525,367"/>
<polyline points="224.7,388 224.7,420"/>
<polyline points="265.1,388 265.1,420"/>
<polyline points="300.8,388 300.8,420"/>
<polyline points="339.7,388 339.7,420"/>
<polyline points="369,388 369,420"/>
<polyline points="402.5,388 402.5,420"/>
<polyline points="448.5,388 448.5,420"/>
<polyline points="473.2,388 473.2,420"/>
<polyline points="501.8,388 501.8,420"/>
<rect x="206.3" y="304.8" width="6.4" height="6.4" fill="#ababab"/>
<polyline points="208.9,305.8 208.9,310.2" stroke-width="0.8" stroke="#e8e8e8"/>
<polyline points="210.8,305.8 210.8,310.2" stroke-width="0.8" stroke="#e8e8e8"/>
<rect x="216.8" y="304.8" width="6.4" height="6.4" fill="#ababab"/>
<polyline points="219.4,305.8 219.4,310.2" stroke-width="0.8" stroke="#e8e8e8"/>
<polyline points="221.3,305.8 221.3,310.2" stroke-width="0.8" stroke="#e8e8e8"/>
<rect x="282.3" y="304.8" width="6.4" height="6.4" fill="#ababab"/>
<polyline points="284.9,305.8 284.9,310.2" stroke-width="0.8" stroke="#e8e8e8"/>
<polyline points="286.8,305.8 286.8,310.2" stroke-width="0.8" stroke="#e8e8e8"/>
<rect x="293.6" y="304.8" width="6.4" height="6.4" fill="#ababab"/>
<polyline points="296.2,305.8 296.2,310.2" stroke-width="0.8" stroke="#e8e8e8"/>
<polyline points="298.1,305.8 298.1,310.2" stroke-width="0.8" stroke="#e8e8e8"/>
<rect x="338.6" y="304.8" width="6.4" height="6.4" fill="#ababab"/>
<polyline points="341.2,305.8 341.2,310.2" stroke-width="0.8" stroke="#e8e8e8"/>
<polyline points="343.1,305.8 343.1,310.2" stroke-width="0.8" stroke="#e8e8e8"/>
<rect x="349.6" y="304.8" width="6.4" height="6.4" fill="#ababab"/>
<polyline points="352.2,305.8 352.2,310.2" stroke-width="0.8" stroke="#e8e8e8"/>
<polyline points="354.1,305.8 354.1,310.2" stroke-width="0.8" stroke="#e8e8e8"/>
<rect x="369" y="304.8" width="6.4" height="6.4" fill="#ababab"/>
<polyline points="371.6,305.8 371.6,310.2" stroke-width="0.8" stroke="#e8e8e8"/>
<polyline points="373.5,305.8 373.5,310.2" stroke-width="0.8" stroke="#e8e8e8"/>
<rect x="379.2" y="304.8" width="6.4" height="6.4" fill="#ababab"/>
<polyline points="381.8,305.8 381.8,310.2" stroke-width="0.8" stroke="#e8e8e8"/>
<polyline points="383.7,305.8 383.7,310.2" stroke-width="0.8" stroke="#e8e8e8"/>
<rect x="432" y="304.8" width="6.4" height="6.4" fill="#ababab"/>
<polyline points="434.6,305.8 434.6,310.2" stroke-width="0.8" stroke="#e8e8e8"/>
<polyline points="436.5,305.8 436.5,310.2" stroke-width="0.8" stroke="#e8e8e8"/>
<rect x="442.3" y="304.8" width="6.4" height="6.4" fill="#ababab"/>
<polyline points="444.9,305.8 444.9,310.2" stroke-width="0.8" stroke="#e8e8e8"/>
<polyline points="446.8,305.8 446.8,310.2" stroke-width="0.8" stroke="#e8e8e8"/>
<rect x="456.5" y="304.8" width="6.4" height="6.4" fill="#ababab"/>
<polyline points="459.1,305.8 459.1,310.2" stroke-width="0.8" stroke="#e8e8e8"/>
<polyline points="461,305.8 461,310.2" stroke-width="0.8" stroke="#e8e8e8"/>
<rect x="484.5" y="304.8" width="6.4" height="6.4" fill="#ababab"/>
<polyline points="487.1,305.8 487.1,310.2" stroke-width="0.8" stroke="#e8e8e8"/>
<polyline points="489,305.8 489,310.2" stroke-width="0.8" stroke="#e8e8e8"/>
<rect x="229.4" y="295.5" width="6.4" height="6.4" fill="#ababab"/>
<polyline points="232,296.5 232,300.9" stroke-width="0.8" stroke="#e8e8e8"/>
<polyline points="233.9,296.5 233.9,300.9" stroke-width="0.8" stroke="#e8e8e8"/>
<rect x="257.2" y="295.5" width="6.4" height="6.4" fill="#ababab"/>
<polyline points="259.8,296.5 259.8,300.9" stroke-width="0.8" stroke="#e8e8e8"/>
<polyline points="261.7,296.5 261.7,300.9" stroke-width="0.8" stroke="#e8e8e8"/>
<rect x="467" y="298.8" width="6.2" height="6.2" fill="#ababab"/>
<polyline points="469.5,299.8 469.5,304" stroke-width="0.8" stroke="#e8e8e8"/>
<polyline points="471.3,299.8 471.3,304" stroke-width="0.8" stroke="#e8e8e8"/>
<rect x="494.9" y="298.6" width="6.2" height="6.2" fill="#ababab"/>
<polyline points="497.4,299.6 497.4,303.8" stroke-width="0.8" stroke="#e8e8e8"/>
<polyline points="499.2,299.6 499.2,303.8" stroke-width="0.8" stroke="#e8e8e8"/>
<circle cx="227.3" cy="305.6" r="3.1" fill="#fff"/>
<polyline points="226.5,305.6 228.1,305.6" stroke-width="0.6" stroke="#666"/>
<circle cx="243.8" cy="306" r="3.1" fill="#fff"/>
<polyline points="243,306 244.6,306" stroke-width="0.6" stroke="#666"/>
<circle cx="269.4" cy="301.2" r="3.1" fill="#fff"/>
<polyline points="268.6,301.2 270.2,301.2" stroke-width="0.6" stroke="#666"/>
<circle cx="362.7" cy="307.5" r="3.1" fill="#fff"/>
<polyline points="361.9,307.5 363.5,307.5" stroke-width="0.6" stroke="#666"/>
<circle cx="400.5" cy="313.4" r="3.1" fill="#fff"/>
<polyline points="399.7,313.4 401.3,313.4" stroke-width="0.6" stroke="#666"/>
<circle cx="423.5" cy="322.3" r="3.1" fill="#fff"/>
<polyline points="422.7,322.3 424.3,322.3" stroke-width="0.6" stroke="#666"/>
<circle cx="446.5" cy="322.3" r="3.1" fill="#fff"/>
<polyline points="445.7,322.3 447.3,322.3" stroke-width="0.6" stroke="#666"/>
<circle cx="474.2" cy="313.5" r="3.1" fill="#fff"/>
<polyline points="473.4,313.5 475,313.5" stroke-width="0.6" stroke="#666"/>
<circle cx="502.3" cy="313.5" r="3.1" fill="#fff"/>
<polyline points="501.5,313.5 503.1,313.5" stroke-width="0.6" stroke="#666"/>
<circle cx="297.8" cy="322.3" r="3.1" fill="#fff"/>
<polyline points="297,322.3 298.6,322.3" stroke-width="0.6" stroke="#666"/>
<circle cx="337.5" cy="322.3" r="3.1" fill="#fff"/>
<polyline points="336.7,322.3 338.3,322.3" stroke-width="0.6" stroke="#666"/>
<polyline points="227.3,308.7 227.3,324.5"/>
<rect x="222.4" y="324.5" width="9.1" height="8.7" fill="#fff"/>
<rect x="224.2" y="327" width="5.4" height="5.4" fill="#ababab"/>
<polyline points="226.4,328 226.4,331.4" stroke-width="0.8" stroke="#e8e8e8"/>
<polyline points="228,328 228,331.4" stroke-width="0.8" stroke="#e8e8e8"/>
<polyline points="243.8,309 243.8,330"/>
<polyline points="269.4,304.3 269.4,310 253.5,310 253.5,352"/>
<polyline points="260.5,310 260.5,325 253.5,325"/>
<polyline points="362.7,310.6 365.5,322"/>
<polyline points="400.5,316.5 400.5,336"/>
<polyline points="423.5,325.4 423.5,336"/>
<polyline points="446.5,325.4 446.5,336"/>
<polyline points="474.2,316.6 474.2,322.3"/>
<polyline points="502.3,316.6 502.3,322.3"/>
<rect x="471.8" y="322.3" width="7.7" height="7.3" fill="#fff"/>
<rect x="473" y="323.5" width="5.4" height="5.4" fill="#ababab"/>
<polyline points="475.2,324.5 475.2,327.9" stroke-width="0.8" stroke="#e8e8e8"/>
<polyline points="476.8,324.5 476.8,327.9" stroke-width="0.8" stroke="#e8e8e8"/>
<rect x="500.4" y="322.3" width="7.6" height="7.3" fill="#fff"/>
<rect x="501.5" y="323.5" width="5.4" height="5.4" fill="#ababab"/>
<polyline points="503.7,324.5 503.7,327.9" stroke-width="0.8" stroke="#e8e8e8"/>
<polyline points="505.3,324.5 505.3,327.9" stroke-width="0.8" stroke="#e8e8e8"/>
<polyline points="475.5,329.6 475.5,336"/>
<polyline points="504,329.6 504,336"/>
<rect x="300.8" y="320.5" width="5.6" height="5.6" fill="#ababab"/>
<polyline points="303,321.5 303,325.1" stroke-width="0.8" stroke="#e8e8e8"/>
<polyline points="304.7,321.5 304.7,325.1" stroke-width="0.8" stroke="#e8e8e8"/>
<rect x="338.6" y="326.2" width="6" height="6" fill="#ababab"/>
<polyline points="341,327.2 341,331.2" stroke-width="0.8" stroke="#e8e8e8"/>
<polyline points="342.8,327.2 342.8,331.2" stroke-width="0.8" stroke="#e8e8e8"/>
<rect x="368.6" y="322.8" width="6.2" height="6.2" fill="#ababab"/>
<polyline points="371.1,323.8 371.1,328" stroke-width="0.8" stroke="#e8e8e8"/>
<polyline points="372.9,323.8 372.9,328" stroke-width="0.8" stroke="#e8e8e8"/>
<rect x="450.6" y="322.8" width="5.8" height="5.8" fill="#ababab"/>
<polyline points="452.9,323.8 452.9,327.6" stroke-width="0.8" stroke="#e8e8e8"/>
<polyline points="454.7,323.8 454.7,327.6" stroke-width="0.8" stroke="#e8e8e8"/>
<polyline points="297.8,325.4 297.8,336"/>
<polyline points="337.5,325.4 337.5,336"/>
<rect x="365" y="320.5" width="11.5" height="9.5" stroke-width="0.9"/>
<rect x="260.5" y="324" width="17" height="7" fill="#fff"/>
<rect x="271" y="325.5" width="5.6" height="5.6" fill="#ababab"/>
<polyline points="273.2,326.5 273.2,330.1" stroke-width="0.8" stroke="#e8e8e8"/>
<polyline points="274.9,326.5 274.9,330.1" stroke-width="0.8" stroke="#e8e8e8"/>
<polyline points="243.8,318 243.8,323"/>
<polygon points="240.5,327.5 243.8,322.5 247,327.5" fill="#1e1e1e" stroke="none"/>
<rect x="245.5" y="324" width="6.5" height="6.5" fill="#777"/>
<path d="M240.8,332.5 h6 v3.5 l-3,3 l-3,-3 z" fill="#fff"/>
<polyline points="236.5,318 236.5,352 246,352"/>
<polyline points="236.5,338.5 240.8,338.5"/>
<polyline points="243.8,339 243.8,341.5 250,341.5 250,352"/>
<text x="208" y="316.2" font-size="4" fill="#777" textLength="3.8" lengthAdjust="spacingAndGlyphs">B1</text>
<text x="218.5" y="316.2" font-size="4" fill="#777" textLength="3.8" lengthAdjust="spacingAndGlyphs">A1</text>
<text x="230.5" y="316.2" font-size="4" fill="#777" textLength="3.8" lengthAdjust="spacingAndGlyphs">A2</text>
<text x="246" y="316.2" font-size="4" fill="#777" textLength="3.8" lengthAdjust="spacingAndGlyphs">B2</text>
<text x="256" y="316.2" font-size="4" fill="#777" textLength="5.7" lengthAdjust="spacingAndGlyphs">Pb2</text>
<text x="271.5" y="316.2" font-size="4" fill="#777" textLength="5.7" lengthAdjust="spacingAndGlyphs">Pa2</text>
<text x="283.5" y="316.2" font-size="4" fill="#777" textLength="3.8" lengthAdjust="spacingAndGlyphs">B3</text>
<text x="295" y="316.2" font-size="4" fill="#777" textLength="3.8" lengthAdjust="spacingAndGlyphs">A3</text>
<text x="340" y="316.2" font-size="4" fill="#777" textLength="3.8" lengthAdjust="spacingAndGlyphs">B4</text>
<text x="351" y="316.2" font-size="4" fill="#777" textLength="3.8" lengthAdjust="spacingAndGlyphs">A4</text>
<text x="370.5" y="316.2" font-size="4" fill="#777" textLength="3.8" lengthAdjust="spacingAndGlyphs">B5</text>
<text x="381" y="316.2" font-size="4" fill="#777" textLength="3.8" lengthAdjust="spacingAndGlyphs">A5</text>
<text x="433.5" y="316.2" font-size="4" fill="#777" textLength="3.8" lengthAdjust="spacingAndGlyphs">B7</text>
<text x="444" y="316.2" font-size="4" fill="#777" textLength="3.8" lengthAdjust="spacingAndGlyphs">A7</text>
<text x="458" y="316.2" font-size="4" fill="#777" textLength="3.8" lengthAdjust="spacingAndGlyphs">B8</text>
<text x="486" y="316.2" font-size="4" fill="#777" textLength="3.8" lengthAdjust="spacingAndGlyphs">B9</text>
<text x="247.5" y="304.5" font-size="4" fill="#666" textLength="5.5" lengthAdjust="spacingAndGlyphs">Pb1</text>
<text x="222" y="322.5" font-size="4" fill="#666" textLength="5.5" lengthAdjust="spacingAndGlyphs">Pa1</text>
<text x="480.5" y="324.5" font-size="4" fill="#555" textLength="5.5" lengthAdjust="spacingAndGlyphs">Pa8</text>
<text x="509" y="324.5" font-size="4" fill="#555" textLength="5.5" lengthAdjust="spacingAndGlyphs">Pa9</text>
<text x="306.5" y="322" font-size="3.8" fill="#666" textLength="5" lengthAdjust="spacingAndGlyphs">Pa3</text>
<text x="330.5" y="325" font-size="3.8" fill="#666" textLength="5" lengthAdjust="spacingAndGlyphs">Pb4</text>
<text x="405" y="316" font-size="3.8" fill="#666" textLength="5" lengthAdjust="spacingAndGlyphs">Pa6</text>
<text x="427.5" y="326" font-size="3.8" fill="#666" textLength="4.5" lengthAdjust="spacingAndGlyphs">Pi1</text>
<text x="451" y="320.5" font-size="3.8" fill="#666" textLength="5" lengthAdjust="spacingAndGlyphs">Pb7</text>
<polyline points="319.6,311 319.6,456.6 573.1,456.6 573.1,288.5 523.2,288.5 523.2,342"/>
<text x="317.5" y="309.5" font-size="4.2" fill="#333" textLength="3" lengthAdjust="spacingAndGlyphs">N</text>
<polyline points="318,314 321.2,316.5"/>
<polyline points="321.2,314 318,316.5"/>
<polygon points="523.2,320.8 525.6,323.8 523.2,326.8 520.8,323.8" fill="#fff"/>
<polyline points="521.2,327.8 525.2,327.8"/>
<polyline points="523.2,302.4 559.6,302.4 559.6,463.3 274.4,463.3 274.4,537.6"/>
<polyline points="523.2,292.8 569,292.8 569,482.9"/>
<polyline points="186.5,293 523.2,293"/>
<polyline points="186.5,293 186.5,483.8 568.5,483.8 568.5,470"/>
<text x="511.5" y="316" font-size="4.2" fill="#666" textLength="4" lengthAdjust="spacingAndGlyphs">T2</text>
<circle cx="540" cy="356" r="2.6" fill="#fff" stroke-width="1.3"/>
<polygon points="537.5,353.3 542.5,353.3 540,356.5" fill="#1e1e1e" stroke="none"/>
<polyline points="535.4,361 535.4,351.5 538,351.5"/>
<polyline points="545.2,361 545.2,351.5 542,351.5"/>
<text x="534.5" y="349.5" font-size="3.8" fill="#555" textLength="10" lengthAdjust="spacingAndGlyphs">24.5MPa</text>
<polyline points="515.2,361 515.2,409.6"/>
<polyline points="519.4,361 519.4,409.6"/>
<polyline points="525.3,361 525.3,409.6"/>
<polyline points="535.4,361 535.4,409.6"/>
<polyline points="545.2,361 545.2,409.6"/>
<polyline points="564,361 564,478.3 439.6,478.3 439.6,534"/>
<polyline points="555.3,361 555.3,606.4 47.6,606.4 47.6,459 191.5,459 191.5,360.5"/>
<polyline points="578.3,327 578.3,600.8 177.6,600.8 177.6,538.3"/>
<polyline points="582.9,352.4 582.9,473.8 229.6,473.8 229.6,526"/>
<polyline points="582.9,352.4 614.5,352.4 614.5,447.3"/>
<polyline points="578.3,327 742.3,327"/>
<circle cx="226" cy="429.2" r="3.1" fill="#fff"/>
<polyline points="225.2,429.2 226.8,429.2" stroke-width="0.6" stroke="#666"/>
<circle cx="266" cy="429.2" r="3.1" fill="#fff"/>
<polyline points="265.2,429.2 266.8,429.2" stroke-width="0.6" stroke="#666"/>
<circle cx="298.4" cy="429.2" r="3.1" fill="#fff"/>
<polyline points="297.6,429.2 299.2,429.2" stroke-width="0.6" stroke="#666"/>
<circle cx="337" cy="429.2" r="3.1" fill="#fff"/>
<polyline points="336.2,429.2 337.8,429.2" stroke-width="0.6" stroke="#666"/>
<circle cx="366.4" cy="429.2" r="3.1" fill="#fff"/>
<polyline points="365.6,429.2 367.2,429.2" stroke-width="0.6" stroke="#666"/>
<circle cx="400" cy="429.2" r="3.1" fill="#fff"/>
<polyline points="399.2,429.2 400.8,429.2" stroke-width="0.6" stroke="#666"/>
<circle cx="447" cy="429.2" r="3.1" fill="#fff"/>
<polyline points="446.2,429.2 447.8,429.2" stroke-width="0.6" stroke="#666"/>
<circle cx="471" cy="429.2" r="3.1" fill="#fff"/>
<polyline points="470.2,429.2 471.8,429.2" stroke-width="0.6" stroke="#666"/>
<circle cx="499.6" cy="429.2" r="3.1" fill="#fff"/>
<polyline points="498.8,429.2 500.4,429.2" stroke-width="0.6" stroke="#666"/>
<rect x="227.5" y="420.3" width="5.8" height="5.8" fill="#ababab"/>
<polyline points="229.8,421.3 229.8,425.1" stroke-width="0.8" stroke="#e8e8e8"/>
<polyline points="231.6,421.3 231.6,425.1" stroke-width="0.8" stroke="#e8e8e8"/>
<rect x="267.5" y="420.3" width="5.8" height="5.8" fill="#ababab"/>
<polyline points="269.8,421.3 269.8,425.1" stroke-width="0.8" stroke="#e8e8e8"/>
<polyline points="271.6,421.3 271.6,425.1" stroke-width="0.8" stroke="#e8e8e8"/>
<rect x="299.5" y="420.3" width="5.8" height="5.8" fill="#ababab"/>
<polyline points="301.8,421.3 301.8,425.1" stroke-width="0.8" stroke="#e8e8e8"/>
<polyline points="303.6,421.3 303.6,425.1" stroke-width="0.8" stroke="#e8e8e8"/>
<rect x="338.3" y="420.3" width="5.8" height="5.8" fill="#ababab"/>
<polyline points="340.6,421.3 340.6,425.1" stroke-width="0.8" stroke="#e8e8e8"/>
<polyline points="342.4,421.3 342.4,425.1" stroke-width="0.8" stroke="#e8e8e8"/>
<rect x="368" y="420.3" width="5.8" height="5.8" fill="#ababab"/>
<polyline points="370.3,421.3 370.3,425.1" stroke-width="0.8" stroke="#e8e8e8"/>
<polyline points="372.1,421.3 372.1,425.1" stroke-width="0.8" stroke="#e8e8e8"/>
<rect x="448.5" y="420.3" width="5.8" height="5.8" fill="#ababab"/>
<polyline points="450.8,421.3 450.8,425.1" stroke-width="0.8" stroke="#e8e8e8"/>
<polyline points="452.6,421.3 452.6,425.1" stroke-width="0.8" stroke="#e8e8e8"/>
<rect x="472.5" y="420.3" width="5.8" height="5.8" fill="#ababab"/>
<polyline points="474.8,421.3 474.8,425.1" stroke-width="0.8" stroke="#e8e8e8"/>
<polyline points="476.6,421.3 476.6,425.1" stroke-width="0.8" stroke="#e8e8e8"/>
<rect x="501" y="420.3" width="5.8" height="5.8" fill="#ababab"/>
<polyline points="503.3,421.3 503.3,425.1" stroke-width="0.8" stroke="#e8e8e8"/>
<polyline points="505.1,421.3 505.1,425.1" stroke-width="0.8" stroke="#e8e8e8"/>
<text x="215" y="425" font-size="4" fill="#777" textLength="5.6" lengthAdjust="spacingAndGlyphs">Pb1</text>
<text x="255.5" y="425" font-size="4" fill="#777" textLength="5.6" lengthAdjust="spacingAndGlyphs">Pa2</text>
<text x="287" y="425" font-size="4" fill="#777" textLength="5.6" lengthAdjust="spacingAndGlyphs">Pb3</text>
<text x="326" y="425" font-size="4" fill="#777" textLength="5.6" lengthAdjust="spacingAndGlyphs">Pa4</text>
<text x="356" y="425" font-size="4" fill="#777" textLength="5.6" lengthAdjust="spacingAndGlyphs">Pa5</text>
<text x="390" y="425" font-size="4" fill="#777" textLength="5.6" lengthAdjust="spacingAndGlyphs">Pb6</text>
<text x="436" y="425" font-size="4" fill="#777" textLength="5.6" lengthAdjust="spacingAndGlyphs">Pb7</text>
<text x="460" y="425" font-size="4" fill="#777" textLength="5.6" lengthAdjust="spacingAndGlyphs">Pb8</text>
<text x="488" y="425" font-size="4" fill="#777" textLength="5.6" lengthAdjust="spacingAndGlyphs">Pa9</text>
<text x="306.5" y="425" font-size="4" fill="#666">S</text>
<text x="223.5" y="440.5" font-size="4.5" fill="#333" textLength="13" lengthAdjust="spacingAndGlyphs" text-anchor="middle">BUCKET</text>
<text x="266" y="440.5" font-size="4.5" fill="#333" textLength="8.5" lengthAdjust="spacingAndGlyphs" text-anchor="middle">BOOM</text>
<text x="296" y="440.5" font-size="4.5" fill="#333" textLength="15.5" lengthAdjust="spacingAndGlyphs" text-anchor="middle">TRAVEL (L)</text>
<text x="334.5" y="440.5" font-size="4.5" fill="#333" textLength="16.5" lengthAdjust="spacingAndGlyphs" text-anchor="middle">TRAVEL (R)</text>
<text x="366" y="440.5" font-size="4.5" fill="#333" textLength="7" lengthAdjust="spacingAndGlyphs" text-anchor="middle">ARM</text>
<text x="400" y="440.5" font-size="4.5" fill="#333" textLength="7" lengthAdjust="spacingAndGlyphs" text-anchor="middle">AUX</text>
<text x="417" y="437.5" font-size="4.5" fill="#333" textLength="16" lengthAdjust="spacingAndGlyphs" text-anchor="middle">AUX. FLOW</text>
<text x="417" y="443" font-size="4.5" fill="#333" textLength="14" lengthAdjust="spacingAndGlyphs" text-anchor="middle">COMBINER</text>
<text x="444" y="437.5" font-size="4.5" fill="#333" textLength="8" lengthAdjust="spacingAndGlyphs" text-anchor="middle">BOOM</text>
<text x="445" y="443" font-size="4.5" fill="#333" textLength="11" lengthAdjust="spacingAndGlyphs" text-anchor="middle">-SWING</text>
<text x="470.5" y="440.5" font-size="4.5" fill="#333" textLength="9.5" lengthAdjust="spacingAndGlyphs" text-anchor="middle">SWING</text>
<text x="498.5" y="440.5" font-size="4.5" fill="#333" textLength="9.5" lengthAdjust="spacingAndGlyphs" text-anchor="middle">BLADE</text>
<text x="528" y="435" font-size="4.5" fill="#333" textLength="15" lengthAdjust="spacingAndGlyphs" text-anchor="middle">STRAIGHT</text>
<text x="528" y="440.5" font-size="4.5" fill="#333" textLength="11" lengthAdjust="spacingAndGlyphs" text-anchor="middle">TRAVEL</text>
<text x="482" y="447.5" font-size="4.5" fill="#333" textLength="37" lengthAdjust="spacingAndGlyphs">CONTROL VALVE KVSE-36-9</text>
<text x="488" y="453" font-size="4.5" fill="#333" textLength="20" lengthAdjust="spacingAndGlyphs">(YB00003303)</text>
<text x="322" y="417.5" font-size="3.8" fill="#555" textLength="9.5" lengthAdjust="spacingAndGlyphs">24.5MPa</text>
<text x="339.5" y="417.5" font-size="3.8" fill="#555" textLength="9.5" lengthAdjust="spacingAndGlyphs">24.5MPa</text>
<polyline points="213.2,311 213.2,396"/>
<polyline points="216.5,311 216.5,390"/>
<polyline points="210,359 210,334 233.4,334 233.4,359" stroke-width="0.9"/>
<polyline points="231.5,361 231.5,409.6"/>
<polyline points="213.2,396 231.5,396"/>
<polyline points="216.5,390 221.7,390"/>
<polyline points="253.7,311 253.7,396"/>
<polyline points="256.9,311 256.9,390"/>
<polyline points="250.4,359 250.4,334 273.8,334 273.8,359" stroke-width="0.9"/>
<polyline points="271.9,361 271.9,409.6"/>
<polyline points="253.7,396 271.9,396"/>
<polyline points="256.9,390 262.1,390"/>
<polyline points="289.3,311 289.3,396"/>
<polyline points="293.5,311 293.5,390"/>
<polyline points="286.1,359 286.1,334 309.5,334 309.5,359" stroke-width="0.9"/>
<polyline points="307.6,361 307.6,409.6"/>
<polyline points="289.3,396 307.6,396"/>
<polyline points="293.5,390 297.8,390"/>
<polyline points="327.3,333 327.3,396"/>
<polyline points="332,333 332,390"/>
<polyline points="325,359 325,334 348.4,334 348.4,359" stroke-width="0.9"/>
<polyline points="346.5,361 346.5,409.6"/>
<polyline points="327.3,396 346.5,396"/>
<polyline points="332,390 336.7,390"/>
<polyline points="358.4,311 358.4,396"/>
<polyline points="361.5,311 361.5,390"/>
<polyline points="354.3,359 354.3,334 377.7,334 377.7,359" stroke-width="0.9"/>
<polyline points="375.8,361 375.8,409.6"/>
<polyline points="358.4,396 375.8,396"/>
<polyline points="361.5,390 366,390"/>
<polyline points="409.6,311 409.6,396"/>
<polyline points="413.8,311 413.8,390"/>
<polyline points="387.8,359 387.8,334 411.2,334 411.2,359" stroke-width="0.9"/>
<polyline points="409.3,361 409.3,409.6"/>
<polyline points="409.6,396 409.3,396"/>
<polyline points="413.8,390 399.5,390"/>
<polyline points="438.4,311 438.4,396"/>
<polyline points="441.6,311 441.6,390"/>
<polyline points="433.8,359 433.8,334 457.2,334 457.2,359" stroke-width="0.9"/>
<polyline points="455.3,361 455.3,409.6"/>
<polyline points="438.4,396 455.3,396"/>
<polyline points="441.6,390 445.5,390"/>
<polyline points="463.1,311 463.1,396"/>
<polyline points="466.3,311 466.3,390"/>
<polyline points="458.5,359 458.5,334 481.9,334 481.9,359" stroke-width="0.9"/>
<polyline points="480,361 480,409.6"/>
<polyline points="463.1,396 480,396"/>
<polyline points="466.3,390 470.2,390"/>
<polyline points="492,311 492,396"/>
<polyline points="494.8,311 494.8,390"/>
<polyline points="487.1,359 487.1,334 510.5,334 510.5,359" stroke-width="0.9"/>
<polyline points="508.6,361 508.6,409.6"/>
<polyline points="492,396 508.6,396"/>
<polyline points="494.8,390 498.8,390"/>
<circle cx="220.4" cy="393" r="2.3" fill="#fff" stroke-width="1.4"/>
<polygon points="218.4,391.2 222.4,391.2 220.4,394.2" fill="#1e1e1e" stroke="none"/>
<polyline points="221.9,390.5 224.4,389.5" stroke-width="1.2"/>
<circle cx="218.6" cy="402.3" r="2.3" fill="#fff" stroke-width="1.4"/>
<polygon points="216.6,400.5 220.6,400.5 218.6,403.5" fill="#1e1e1e" stroke="none"/>
<polyline points="220.1,399.8 222.6,398.8" stroke-width="1.2"/>
<circle cx="255.4" cy="394.9" r="2.3" fill="#fff" stroke-width="1.4"/>
<polygon points="253.4,393.1 257.4,393.1 255.4,396.1" fill="#1e1e1e" stroke="none"/>
<polyline points="256.9,392.4 259.4,391.4" stroke-width="1.2"/>
<circle cx="250" cy="403" r="2.3" fill="#fff" stroke-width="1.4"/>
<polygon points="248,401.2 252,401.2 250,404.2" fill="#1e1e1e" stroke="none"/>
<polyline points="251.5,400.5 254,399.5" stroke-width="1.2"/>
<circle cx="338" cy="373.5" r="2.3" fill="#fff" stroke-width="1.4"/>
<polygon points="336,371.7 340,371.7 338,374.7" fill="#1e1e1e" stroke="none"/>
<polyline points="339.5,371 342,370" stroke-width="1.2"/>
<circle cx="322" cy="392" r="2.3" fill="#fff" stroke-width="1.4"/>
<polygon points="320,390.2 324,390.2 322,393.2" fill="#1e1e1e" stroke="none"/>
<polyline points="323.5,389.5 326,388.5" stroke-width="1.2"/>
<circle cx="296" cy="385" r="2.3" fill="#fff" stroke-width="1.4"/>
<polygon points="294,383.2 298,383.2 296,386.2" fill="#1e1e1e" stroke="none"/>
<polyline points="297.5,382.5 300,381.5" stroke-width="1.2"/>
<circle cx="390" cy="397" r="2.3" fill="#fff" stroke-width="1.4"/>
<polygon points="388,395.2 392,395.2 390,398.2" fill="#1e1e1e" stroke="none"/>
<polyline points="391.5,394.5 394,393.5" stroke-width="1.2"/>
<circle cx="392.5" cy="401" r="2.3" fill="#fff" stroke-width="1.4"/>
<polygon points="390.5,399.2 394.5,399.2 392.5,402.2" fill="#1e1e1e" stroke="none"/>
<polyline points="394,398.5 396.5,397.5" stroke-width="1.2"/>
<polyline points="235.2,361 235.2,409.6"/>
<polyline points="233.4,386 237,389"/>
<polyline points="237,386 233.4,389"/>
<text x="214" y="408" font-size="3.6" fill="#555" textLength="9" lengthAdjust="spacingAndGlyphs">24.5MPa</text>
<text x="259" y="407" font-size="3.6" fill="#555" textLength="9" lengthAdjust="spacingAndGlyphs">24.5MPa</text>
<rect x="418.9" y="331.5" width="17" height="29.5" stroke-width="0.9"/>
<polyline points="377.8,290 377.8,361"/>
<polyline points="395.3,322 395.3,400"/>
<polyline points="452.4,322 452.4,361"/>
<polyline points="477.3,330 477.3,361"/>
<polyline points="284.5,361 284.5,334 312,334"/>
<polyline points="312,325 312,361"/>
<polyline points="243,361 243,372 252.7,372 252.7,400"/>
<polyline points="349,361 349,400 357,400"/>
<polyline points="206.6,356.2 551.7,356.2"/>
<polygon points="319.6,397.5 321.8,400 319.6,402.5 317.4,400" fill="#555"/>
<circle cx="319.6" cy="394" r="1" fill="#fff"/>
<polyline points="404,372 416,372 416,409.6"/>
<polyline points="384,366 384,409.6"/>
<polyline points="431.5,369 431.5,409.6"/>
<polyline points="456,380 456,409.6" stroke-width="0.9"/>
<polyline points="482,380 482,409.6" stroke-width="0.9"/>
<polyline points="510,372 510,409.6" stroke-width="0.9"/>
<polyline points="441,398 455,398"/>
<polyline points="467,402 481,402"/>
<polyline points="494,396 509,396"/>
<circle cx="213.2" cy="360.5" r="1.1" fill="#1e1e1e" stroke="none"/>
<circle cx="253.7" cy="360.5" r="1.1" fill="#1e1e1e" stroke="none"/>
<circle cx="312" cy="360.5" r="1.1" fill="#1e1e1e" stroke="none"/>
<polyline points="172.5,173.3 172.5,538.3 160,538.3"/>
<polyline points="172.3,293 177.1,293 177.1,510.2 229.6,510.2"/>
<polyline points="112.6,453 27.7,453 27.7,525.2 96.5,525.2"/>
<polyline points="167.7,551.9 167.7,492.7 346.2,492.7"/>
<circle cx="172.5" cy="293" r="1.1" fill="#1e1e1e" stroke="none"/>
<circle cx="172.5" cy="246.4" r="1.1" fill="#1e1e1e" stroke="none"/>
<circle cx="191.5" cy="459" r="1.1" fill="#1e1e1e" stroke="none"/>
<path d="M170.5,492.7 a2,2 0 0 1 4,0" fill="none"/>
<path d="M175.1,492.7 a2,2 0 0 1 4,0" fill="none"/>
<path d="M179.7,492.7 a2,2 0 0 1 4,0" fill="none"/>
<polygon points="68.8,520.2 73.8,525.2 68.8,530.2 63.8,525.2" fill="#fff"/>
<polyline points="68.8,520.2 68.8,530.2"/>
<polyline points="55,525.2 55,509.5 83.2,509.5 83.2,525.2"/>
<rect x="58.3" y="500.6" width="21.7" height="13.1"/>
<circle cx="68" cy="509.5" r="1.8" fill="#fff" stroke-width="1.3"/>
<polyline points="70,509.5 73,509.5" stroke-width="1.3"/>
<text x="62.5" y="506.5" font-size="4.2" fill="#333" textLength="12" lengthAdjust="spacingAndGlyphs">0.49MPa</text>
<circle cx="90" cy="515" r="3" fill="#fff"/>
<polyline points="90,518 90,525.2"/>
<text x="59.5" y="533.5" font-size="4.5" fill="#333" textLength="17" lengthAdjust="spacingAndGlyphs">OIL COOLER</text>
<text x="61.2" y="538.7" font-size="4.5" fill="#333" textLength="20.4" lengthAdjust="spacingAndGlyphs">(YB00002630)</text>
<text x="73" y="552" font-size="4.5" fill="#333" textLength="11.4" lengthAdjust="spacingAndGlyphs">RETURN</text>
<text x="73" y="557.3" font-size="4.5" fill="#333" textLength="11.4" lengthAdjust="spacingAndGlyphs">FILTER</text>
<text x="73" y="562.6" font-size="4.5" fill="#333" textLength="17.1" lengthAdjust="spacingAndGlyphs">(4713197)</text>
<rect x="96.5" y="518.7" width="63" height="46.5"/>
<polyline points="96.5,532.2 159.5,532.2"/>
<path d="M125,532.2 Q134.3,536.5 143.6,532.2 z" fill="#1e1e1e"/>
<polyline points="96.5,525.2 114.6,525.2 114.6,555.6"/>
<circle cx="114.6" cy="555.6" r="1.1" fill="#1e1e1e" stroke="none"/>
<circle cx="103.9" cy="549.5" r="3" fill="#fff" stroke-width="1.3"/>
<polygon points="114.4,545.2 118.7,549.5 114.4,553.8 110.1,549.5" fill="#fff"/>
<polyline points="110.1,549.5 118.7,549.5"/>
<polyline points="100,545 100,543 108,543 108,549.5"/>
<polyline points="100,554 100,556 114.6,556"/>
<rect x="99.5" y="545" width="3.5" height="4.5" fill="#fff"/>
<text x="103.5" y="561.5" font-size="4.2" fill="#333" textLength="6" lengthAdjust="spacingAndGlyphs">10μ</text>
<text x="97" y="570.5" font-size="4.5" fill="#333" textLength="25" lengthAdjust="spacingAndGlyphs">HYD. OIL TANK</text>
<text x="134.5" y="543" font-size="4.5" fill="#333" textLength="12.6" lengthAdjust="spacingAndGlyphs">SUCTION</text>
<text x="134.5" y="548.3" font-size="4.5" fill="#333" textLength="10.8" lengthAdjust="spacingAndGlyphs">FILTER</text>
<text x="134.5" y="553.6" font-size="4.5" fill="#333" textLength="16.2" lengthAdjust="spacingAndGlyphs">(4288612)</text>
<polygon points="138,556.2 148.2,556.2 143.1,562.5" fill="#fff"/>
<polyline points="143.1,562.5 143.1,587 461.3,587 461.3,556"/>
<polyline points="145.3,493.8 145.3,518.7"/>
<polyline points="145.3,497 156,497 156,513 145.3,513"/>
<path d="M142,503 h3 a4,4 0 0 1 0,8 h-3 z" fill="#fff" stroke-width="1.4"/>
<polyline points="140.5,512 143,503"/>
<polygon points="156,500.5 157.8,503.5 156,506.5 154.2,503.5" fill="#fff"/>
<text x="120" y="509" font-size="4.4" fill="#333" textLength="12.5" lengthAdjust="spacingAndGlyphs">0.05MPa</text>
<rect x="160" y="539.8" width="8.3" height="8" fill="#fff" stroke-width="0.8" stroke="#666"/>
<circle cx="163.8" cy="543.7" r="3" fill="#fff" stroke-width="1.2"/>
<polyline points="159.5,533.8 204.4,533.8 204.4,546"/>
<rect x="197.8" y="546.2" width="6.5" height="6.5" fill="#ababab"/>
<polyline points="200.4,547.2 200.4,551.7" stroke-width="0.8" stroke="#e8e8e8"/>
<polyline points="202.4,547.2 202.4,551.7" stroke-width="0.8" stroke="#e8e8e8"/>
<text x="201" y="557" font-size="4.2" fill="#333">T</text>
<polyline points="159.5,541 156,541"/>
<polyline points="159.5,546 156,546"/>
<polyline points="159.5,551.9 172.5,551.9 172.5,538.3"/>
<rect x="208.6" y="520.4" width="71" height="36.9" stroke-width="0.8" stroke="#555" stroke-dasharray="3 1"/>
<rect x="212.7" y="526" width="21.3" height="7.3" fill="#fff" stroke-width="1.2"/>
<polyline points="217.2,526 217.2,533.3"/>
<polyline points="225.2,526 225.2,533.3" stroke-width="1.2"/>
<polyline points="218.7,532 220.7,527.5 223.7,527.5" stroke-width="1.1"/>
<polyline points="226.7,532.5 228.7,527.5 231.7,532.5" stroke-width="1.1"/>
<polyline points="234,530 235.2,527 236.7,532 238.2,527 239.7,532 240.7,529.5"/>
<rect x="244.6" y="526" width="21.3" height="7.3" fill="#fff" stroke-width="1.2"/>
<polyline points="249.1,526 249.1,533.3"/>
<polyline points="257.1,526 257.1,533.3" stroke-width="1.2"/>
<polyline points="250.6,532 252.6,527.5 255.6,527.5" stroke-width="1.1"/>
<polyline points="258.6,532.5 260.6,527.5 263.6,532.5" stroke-width="1.1"/>
<polyline points="265.9,530 267.1,527 268.6,532 270.1,527 271.6,532 272.6,529.5"/>
<polyline points="229.3,537.6 302,537.6"/>
<polyline points="229.6,533.3 229.6,537.6"/>
<polyline points="262.8,533.3 262.8,541.6"/>
<polyline points="232,537.6 232,553"/>
<polyline points="247.3,537.6 247.3,553"/>
<polyline points="208.6,553 262.4,553 262.4,549.4"/>
<rect x="256.5" y="541.6" width="7.5" height="7.8" fill="#fff" stroke-width="1.3"/>
<polyline points="250,545.5 251.2,543.5 252.6,547.5 254,543.5 255.4,547.5 256.5,545.5"/>
<polyline points="264,543.5 267,543.5 267,538"/>
<polygon points="260.3,543 262.3,546.5 258.3,546.5" fill="#1e1e1e" stroke="none"/>
<text x="263" y="554.5" font-size="4.2" fill="#333" textLength="10" lengthAdjust="spacingAndGlyphs">3.9MPa</text>
<text x="215.5" y="561.5" font-size="4.5" fill="#333" textLength="25.9" lengthAdjust="spacingAndGlyphs">SOLENOID VALVE</text>
<text x="228.4" y="566.9" font-size="4.5" fill="#333" textLength="7.4" lengthAdjust="spacingAndGlyphs">UNIT</text>
<text x="221.1" y="572.3" font-size="4.5" fill="#333" textLength="16.7" lengthAdjust="spacingAndGlyphs">(4465213)</text>
<text x="232.5" y="518.5" font-size="4.6" fill="#333">A</text>
<text x="265" y="518.5" font-size="4.6" fill="#333">B</text>
<text x="277" y="518.5" font-size="4.6" fill="#333">G</text>
<rect x="216" y="510.5" width="6.3" height="6.3" fill="#ababab"/>
<polyline points="218.5,511.5 218.5,515.8" stroke-width="0.8" stroke="#e8e8e8"/>
<polyline points="220.4,511.5 220.4,515.8" stroke-width="0.8" stroke="#e8e8e8"/>
<rect x="262.5" y="506.5" width="6.3" height="6.3" fill="#ababab"/>
<polyline points="265,507.5 265,511.8" stroke-width="0.8" stroke="#e8e8e8"/>
<polyline points="266.9,507.5 266.9,511.8" stroke-width="0.8" stroke="#e8e8e8"/>
<rect x="248.6" y="468.3" width="7.2" height="5.7" fill="#8c8c8c" stroke="none"/>
<circle cx="229.6" cy="483.8" r="1.1" fill="#1e1e1e" stroke="none"/>
<circle cx="229.6" cy="492.7" r="1.1" fill="#1e1e1e" stroke="none"/>
<circle cx="229.6" cy="510.2" r="1.1" fill="#1e1e1e" stroke="none"/>
<circle cx="274.4" cy="473.8" r="1.1" fill="#1e1e1e" stroke="none"/>
<circle cx="274.4" cy="483.8" r="1.1" fill="#1e1e1e" stroke="none"/>
<polyline points="275,537.6 275,463.3"/>
<circle cx="292" cy="512" r="3" fill="#fff"/>
<polyline points="291.2,512 292.8,512" stroke-width="0.6" stroke="#666"/>
<circle cx="302" cy="519.5" r="3" fill="#fff"/>
<polyline points="301.2,519.5 302.8,519.5" stroke-width="0.6" stroke="#666"/>
<polyline points="292,515 292,537.6"/>
<polyline points="292,519.5 299,519.5"/>
<rect x="300.5" y="531.3" width="6.5" height="6" fill="#8c8c8c" stroke="#1e1e1e" stroke-width="0.6"/>
<rect x="307.5" y="528.6" width="21.2" height="27.7" stroke-width="0.8" stroke="#555"/>
<polygon points="318,531.3 324,537.5 318,543.7 312,537.5" fill="#fff"/>
<polyline points="318,531.3 318,543.7" stroke-dasharray="1.5 1"/>
<polyline points="302,537.6 312,537.6"/>
<polyline points="324,537.6 361,537.6 361,488.4 422.7,488.4 422.7,534"/>
<rect x="315" y="546" width="6.5" height="6" fill="#fff" stroke-width="1.2"/>
<polyline points="310.5,537.6 310.5,549 315,549"/>
<polyline points="321.5,549 326,549 326,537.6"/>
<text x="314.5" y="526.5" font-size="4.2" fill="#666" textLength="8" lengthAdjust="spacingAndGlyphs">1.5μ</text>
<rect x="317.3" y="486.5" width="6.4" height="6.4" fill="#ababab"/>
<polyline points="319.9,487.5 319.9,491.9" stroke-width="0.8" stroke="#e8e8e8"/>
<polyline points="321.8,487.5 321.8,491.9" stroke-width="0.8" stroke="#e8e8e8"/>
<circle cx="350" cy="492.7" r="3.1" fill="#fff"/>
<polyline points="349.2,492.7 350.8,492.7" stroke-width="0.6" stroke="#666"/>
<circle cx="339.8" cy="502.8" r="3.1" fill="#fff"/>
<polyline points="339,502.8 340.6,502.8" stroke-width="0.6" stroke="#666"/>
<polyline points="339.8,492.7 339.8,499.7"/>
<circle cx="339.8" cy="492.7" r="1.1" fill="#1e1e1e" stroke="none"/>
<rect x="372.6" y="504.6" width="108.1" height="72.7"/>
<circle cx="385.3" cy="493.4" r="3.1" fill="#fff"/>
<polyline points="384.5,493.4 386.1,493.4" stroke-width="0.6" stroke="#666"/>
<polyline points="385.3,496.5 385.3,543.7"/>
<rect x="382.2" y="543.7" width="6.4" height="14.1" fill="#fff" stroke-width="1.1"/>
<polygon points="382.2,543.7 388.6,543.7 385.4,549" fill="#1e1e1e" stroke="none"/>
<polyline points="382.5,551 388.3,551" stroke-width="0.6" stroke="#555"/>
<rect x="389.3" y="543.7" width="6.2" height="14.1" fill="#fff" stroke-width="1.1"/>
<polygon points="389.3,543.7 395.5,543.7 392.4,549" fill="#1e1e1e" stroke="none"/>
<polyline points="389.6,551 395.2,551" stroke-width="0.6" stroke="#555"/>
<rect x="396.3" y="543.7" width="6" height="14.1" fill="#fff" stroke-width="1.1"/>
<polygon points="396.3,543.7 402.3,543.7 399.3,549" fill="#1e1e1e" stroke="none"/>
<polyline points="396.6,551 402,551" stroke-width="0.6" stroke="#555"/>
<rect x="403.2" y="543.7" width="6" height="14.1" fill="#fff" stroke-width="1.1"/>
<polygon points="403.2,543.7 409.2,543.7 406.2,549" fill="#1e1e1e" stroke="none"/>
<polyline points="403.5,551 408.9,551" stroke-width="0.6" stroke="#555"/>
<polyline points="392.4,543.7 392.4,514.6 452,514.6 466,528.5"/>
<polyline points="399.3,543.7 399.3,521.6 446,521.6 455.8,531.5"/>
<polyline points="406.2,543.7 406.2,528.6 432,528.6 436,533"/>
<polyline points="376.6,575 376.6,558.5 450,558.5"/>
<polyline points="379.4,575 379.4,561 384,561"/>
<polyline points="393,558.5 404,561.5 393,564.5 404,567.5 393,570.5" stroke-width="1.3"/>
<circle cx="422.7" cy="542.4" r="8.6" fill="#fff" stroke-width="1.2"/>
<circle cx="439.7" cy="542.4" r="8.6" fill="#fff" stroke-width="1.2"/>
<circle cx="461" cy="543.2" r="12.6" fill="#fff" stroke-width="1.2"/>
<polygon points="420.1,534.2 425.3,534.2 422.7,538.2" fill="#1e1e1e" stroke="none"/>
<polygon points="437.1,534.2 442.3,534.2 439.7,538.2" fill="#1e1e1e" stroke="none"/>
<polygon points="453.5,533.5 458.5,531.5 457,536.5" fill="#1e1e1e" stroke="none"/>
<polygon points="463.5,531.5 468.8,533 465,536.8" fill="#1e1e1e" stroke="none"/>
<polyline points="451.2,553.9 474.5,529.3" stroke-width="1.3"/>
<polygon points="476,527.6 474.8,532 471.8,529" fill="#1e1e1e" stroke="none"/>
<polyline points="422.7,551 422.7,572.3 460.4,572.3"/>
<polyline points="438.3,551 438.3,572.3"/>
<circle cx="460.4" cy="572.3" r="1.1" fill="#1e1e1e" stroke="none"/>
<polyline points="417,556 428.5,556"/>
<polyline points="434,556 445.5,556"/>
<polyline points="466,483.8 466,531.5"/>
<polyline points="455.8,479.2 455.8,531.5"/>
<circle cx="455.8" cy="479.2" r="1.1" fill="#1e1e1e" stroke="none"/>
<rect x="440.2" y="491.4" width="6.4" height="6.4" fill="#ababab"/>
<polyline points="442.8,492.4 442.8,496.8" stroke-width="0.8" stroke="#e8e8e8"/>
<polyline points="444.7,492.4 444.7,496.8" stroke-width="0.8" stroke="#e8e8e8"/>
<rect x="456" y="491.4" width="6.4" height="6.4" fill="#ababab"/>
<polyline points="458.6,492.4 458.6,496.8" stroke-width="0.8" stroke="#e8e8e8"/>
<polyline points="460.5,492.4 460.5,496.8" stroke-width="0.8" stroke="#e8e8e8"/>
<rect x="466.3" y="491.4" width="6.4" height="6.4" fill="#ababab"/>
<polyline points="468.9,492.4 468.9,496.8" stroke-width="0.8" stroke="#e8e8e8"/>
<polyline points="470.8,492.4 470.8,496.8" stroke-width="0.8" stroke="#e8e8e8"/>
<text x="377" y="502.5" font-size="4.2" fill="#666" textLength="4" lengthAdjust="spacingAndGlyphs">Dr</text>
<text x="424.5" y="502.5" font-size="4.2" fill="#666" textLength="3.5" lengthAdjust="spacingAndGlyphs">Pi</text>
<text x="441.5" y="502.5" font-size="4.2" fill="#666" textLength="4" lengthAdjust="spacingAndGlyphs">P3</text>
<text x="456.5" y="502.5" font-size="4.2" fill="#666" textLength="4" lengthAdjust="spacingAndGlyphs">P1</text>
<text x="467" y="502.5" font-size="4.2" fill="#666" textLength="4" lengthAdjust="spacingAndGlyphs">P2</text>
<text x="463.5" y="585" font-size="4.2" fill="#666">S</text>
<polyline points="473.5,541 491.8,541"/>
<polyline points="473.5,544.4 491.8,544.4"/>
<polyline points="486.4,538 486.4,548" stroke-width="1.2"/>
<polyline points="488.6,538 488.6,548" stroke-width="1.2"/>
<rect x="491.8" y="527.7" width="52.5" height="38.5" stroke-width="0.9" stroke="#444"/>
<text x="497" y="537" font-size="4.6" fill="#333" textLength="11.5" lengthAdjust="spacingAndGlyphs">ENGINE</text>
<text x="507" y="543.5" font-size="4.8" fill="#333" textLength="27" lengthAdjust="spacingAndGlyphs">3 T N V 8 8</text>
<text x="494.5" y="555.5" font-size="4.4" fill="#333" textLength="25" lengthAdjust="spacingAndGlyphs">18.1kW/2000min</text>
<text x="529" y="553.5" font-size="3.6" fill="#777">-1</text>
<text x="489" y="506.5" font-size="4.6" fill="#333" textLength="7.2" lengthAdjust="spacingAndGlyphs">PUMP</text>
<text x="489" y="512.1" font-size="4.6" fill="#333" textLength="12.6" lengthAdjust="spacingAndGlyphs">PVD-1B-</text>
<text x="490.8" y="517.7" font-size="4.6" fill="#333" textLength="39.6" lengthAdjust="spacingAndGlyphs">16.6×2+10.7+5.7cm³/rev</text>
<text x="492.6" y="523.3" font-size="4.6" fill="#333" textLength="21.6" lengthAdjust="spacingAndGlyphs">(YB00003281)</text>
<rect x="555.5" y="504.8" width="6.5" height="6.5" fill="#ababab"/>
<polyline points="558.1,505.8 558.1,510.3" stroke-width="0.8" stroke="#e8e8e8"/>
<polyline points="560,505.8 560,510.3" stroke-width="0.8" stroke="#e8e8e8"/>
<rect x="648.2" y="243.2" width="79" height="42.2"/>
<circle cx="669" cy="246.8" r="1.2" fill="#1e1e1e" stroke="none"/>
<polyline points="669,246.8 669,256.3" stroke-width="1.3"/>
<polyline points="656,257 681.7,257" stroke-width="2.2"/>
<path d="M659,258.2 Q669,264 679,258.2" fill="none" stroke-width="1.2"/>
<polygon points="656.5,258 661,258 659,261" fill="#1e1e1e" stroke="none"/>
<polygon points="681.5,258 677,258 679,261" fill="#1e1e1e" stroke="none"/>
<polyline points="656.6,261.6 662.4,261.6 662.4,266.3 656.6,266.3 656.6,261.6" stroke-width="1.1"/>
<polyline points="681.4,261.6 675.6,261.6 675.6,266.3 681.4,266.3 681.4,261.6" stroke-width="1.1"/>
<polyline points="654,264.2 656.6,264.2"/>
<polyline points="654,264.2 654,288"/>
<polyline points="654,271 659,271 659,266.3"/>
<polyline points="683.6,264.2 681.4,264.2"/>
<polyline points="683.6,264.2 683.6,288"/>
<polyline points="683.6,271 679,271 679,266.3"/>
<polyline points="662.4,264 675.6,264" stroke-width="1.2"/>
<circle cx="706" cy="246.8" r="1.2" fill="#1e1e1e" stroke="none"/>
<polyline points="706,246.8 706,256.3" stroke-width="1.3"/>
<polyline points="693,257 718.7,257" stroke-width="2.2"/>
<path d="M696,258.2 Q706,264 716,258.2" fill="none" stroke-width="1.2"/>
<polygon points="693.5,258 698,258 696,261" fill="#1e1e1e" stroke="none"/>
<polygon points="718.5,258 714,258 716,261" fill="#1e1e1e" stroke="none"/>
<polyline points="693.6,261.6 699.4,261.6 699.4,266.3 693.6,266.3 693.6,261.6" stroke-width="1.1"/>
<polyline points="718.4,261.6 712.6,261.6 712.6,266.3 718.4,266.3 718.4,261.6" stroke-width="1.1"/>
<polyline points="691,264.2 693.6,264.2"/>
<polyline points="691,264.2 691,288"/>
<polyline points="691,271 696,271 696,266.3"/>
<polyline points="720.6,264.2 718.4,264.2"/>
<polyline points="720.6,264.2 720.6,288"/>
<polyline points="720.6,271 716,271 716,266.3"/>
<polyline points="699.4,264 712.6,264" stroke-width="1.2"/>
<polyline points="666,265 666,285.4" stroke-width="1.3"/>
<polyline points="671.8,265 671.8,285.4" stroke-width="1.3"/>
<polyline points="666,275.8 703.4,275.8 703.4,265"/>
<polyline points="671.8,279.7 709.1,279.7 709.1,265"/>
<circle cx="666" cy="275.8" r="1.1" fill="#1e1e1e" stroke="none"/>
<circle cx="671.8" cy="279.7" r="1.1" fill="#1e1e1e" stroke="none"/>
<circle cx="683.6" cy="271" r="1" fill="#1e1e1e" stroke="none"/>
<circle cx="691.4" cy="271" r="1" fill="#1e1e1e" stroke="none"/>
<circle cx="654" cy="291.2" r="3.1" fill="#fff"/>
<polyline points="653.2,291.2 654.8,291.2" stroke-width="0.6" stroke="#666"/>
<rect x="651" y="295" width="6" height="6" fill="#ababab"/>
<polyline points="653.4,296 653.4,300" stroke-width="0.8" stroke="#e8e8e8"/>
<polyline points="655.2,296 655.2,300" stroke-width="0.8" stroke="#e8e8e8"/>
<circle cx="683.6" cy="291.2" r="3.1" fill="#fff"/>
<polyline points="682.8,291.2 684.4,291.2" stroke-width="0.6" stroke="#666"/>
<rect x="680.6" y="295" width="6" height="6" fill="#ababab"/>
<polyline points="683,296 683,300" stroke-width="0.8" stroke="#e8e8e8"/>
<polyline points="684.8,296 684.8,300" stroke-width="0.8" stroke="#e8e8e8"/>
<circle cx="691.4" cy="291.2" r="3.1" fill="#fff"/>
<polyline points="690.6,291.2 692.2,291.2" stroke-width="0.6" stroke="#666"/>
<rect x="688.4" y="295" width="6" height="6" fill="#ababab"/>
<polyline points="690.8,296 690.8,300" stroke-width="0.8" stroke="#e8e8e8"/>
<polyline points="692.6,296 692.6,300" stroke-width="0.8" stroke="#e8e8e8"/>
<circle cx="720.6" cy="291.2" r="3.1" fill="#fff"/>
<polyline points="719.8,291.2 721.4,291.2" stroke-width="0.6" stroke="#666"/>
<rect x="717.6" y="295" width="6" height="6" fill="#ababab"/>
<polyline points="720,296 720,300" stroke-width="0.8" stroke="#e8e8e8"/>
<polyline points="721.8,296 721.8,300" stroke-width="0.8" stroke="#e8e8e8"/>
<rect x="660.6" y="290.5" width="10.7" height="5.8" fill="#fff" stroke-width="1.1"/>
<path d="M662.5,289.3 Q666,286.8 669.5,289.3" fill="none" stroke-width="1.3"/>
<polyline points="664,290.5 664,296.3"/>
<polyline points="668,290.5 668,296.3"/>
<rect x="735" y="243.2" width="79" height="42.2"/>
<circle cx="755.8" cy="246.8" r="1.2" fill="#1e1e1e" stroke="none"/>
<polyline points="755.8,246.8 755.8,256.3" stroke-width="1.3"/>
<polyline points="742.8,257 768.5,257" stroke-width="2.2"/>
<path d="M745.8,258.2 Q755.8,264 765.8,258.2" fill="none" stroke-width="1.2"/>
<polygon points="743.3,258 747.8,258 745.8,261" fill="#1e1e1e" stroke="none"/>
<polygon points="768.3,258 763.8,258 765.8,261" fill="#1e1e1e" stroke="none"/>
<polyline points="743.4,261.6 749.2,261.6 749.2,266.3 743.4,266.3 743.4,261.6" stroke-width="1.1"/>
<polyline points="768.2,261.6 762.4,261.6 762.4,266.3 768.2,266.3 768.2,261.6" stroke-width="1.1"/>
<polyline points="740.8,264.2 743.4,264.2"/>
<polyline points="740.8,264.2 740.8,288"/>
<polyline points="740.8,271 745.8,271 745.8,266.3"/>
<polyline points="770.4,264.2 768.2,264.2"/>
<polyline points="770.4,264.2 770.4,288"/>
<polyline points="770.4,271 765.8,271 765.8,266.3"/>
<polyline points="749.2,264 762.4,264" stroke-width="1.2"/>
<circle cx="792.8" cy="246.8" r="1.2" fill="#1e1e1e" stroke="none"/>
<polyline points="792.8,246.8 792.8,256.3" stroke-width="1.3"/>
<polyline points="779.8,257 805.5,257" stroke-width="2.2"/>
<path d="M782.8,258.2 Q792.8,264 802.8,258.2" fill="none" stroke-width="1.2"/>
<polygon points="780.3,258 784.8,258 782.8,261" fill="#1e1e1e" stroke="none"/>
<polygon points="805.3,258 800.8,258 802.8,261" fill="#1e1e1e" stroke="none"/>
<polyline points="780.4,261.6 786.2,261.6 786.2,266.3 780.4,266.3 780.4,261.6" stroke-width="1.1"/>
<polyline points="805.2,261.6 799.4,261.6 799.4,266.3 805.2,266.3 805.2,261.6" stroke-width="1.1"/>
<polyline points="777.8,264.2 780.4,264.2"/>
<polyline points="777.8,264.2 777.8,288"/>
<polyline points="777.8,271 782.8,271 782.8,266.3"/>
<polyline points="807.4,264.2 805.2,264.2"/>
<polyline points="807.4,264.2 807.4,288"/>
<polyline points="807.4,271 802.8,271 802.8,266.3"/>
<polyline points="786.2,264 799.4,264" stroke-width="1.2"/>
<polyline points="752.8,265 752.8,285.4" stroke-width="1.3"/>
<polyline points="758.6,265 758.6,285.4" stroke-width="1.3"/>
<polyline points="752.8,275.8 790.2,275.8 790.2,265"/>
<polyline points="758.6,279.7 795.9,279.7 795.9,265"/>
<circle cx="752.8" cy="275.8" r="1.1" fill="#1e1e1e" stroke="none"/>
<circle cx="758.6" cy="279.7" r="1.1" fill="#1e1e1e" stroke="none"/>
<circle cx="770.4" cy="271" r="1" fill="#1e1e1e" stroke="none"/>
<circle cx="778.2" cy="271" r="1" fill="#1e1e1e" stroke="none"/>
<circle cx="740.8" cy="291.2" r="3.1" fill="#fff"/>
<polyline points="740,291.2 741.6,291.2" stroke-width="0.6" stroke="#666"/>
<rect x="737.8" y="295" width="6" height="6" fill="#ababab"/>
<polyline points="740.2,296 740.2,300" stroke-width="0.8" stroke="#e8e8e8"/>
<polyline points="742,296 742,300" stroke-width="0.8" stroke="#e8e8e8"/>
<circle cx="770.4" cy="291.2" r="3.1" fill="#fff"/>
<polyline points="769.6,291.2 771.2,291.2" stroke-width="0.6" stroke="#666"/>
<rect x="767.4" y="295" width="6" height="6" fill="#ababab"/>
<polyline points="769.8,296 769.8,300" stroke-width="0.8" stroke="#e8e8e8"/>
<polyline points="771.6,296 771.6,300" stroke-width="0.8" stroke="#e8e8e8"/>
<circle cx="778.2" cy="291.2" r="3.1" fill="#fff"/>
<polyline points="777.4,291.2 779,291.2" stroke-width="0.6" stroke="#666"/>
<rect x="775.2" y="295" width="6" height="6" fill="#ababab"/>
<polyline points="777.6,296 777.6,300" stroke-width="0.8" stroke="#e8e8e8"/>
<polyline points="779.4,296 779.4,300" stroke-width="0.8" stroke="#e8e8e8"/>
<circle cx="807.4" cy="291.2" r="3.1" fill="#fff"/>
<polyline points="806.6,291.2 808.2,291.2" stroke-width="0.6" stroke="#666"/>
<rect x="804.4" y="295" width="6" height="6" fill="#ababab"/>
<polyline points="806.8,296 806.8,300" stroke-width="0.8" stroke="#e8e8e8"/>
<polyline points="808.6,296 808.6,300" stroke-width="0.8" stroke="#e8e8e8"/>
<rect x="747.4" y="290.5" width="10.7" height="5.8" fill="#fff" stroke-width="1.1"/>
<path d="M749.3,289.3 Q752.8,286.8 756.3,289.3" fill="none" stroke-width="1.3"/>
<polyline points="750.8,290.5 750.8,296.3"/>
<polyline points="754.8,290.5 754.8,296.3"/>
<text x="666" y="212.5" font-size="4.5" fill="#333" textLength="24.3" lengthAdjust="spacingAndGlyphs">PILOT VALVE (L)</text>
<text x="666" y="217.9" font-size="4.5" fill="#333" textLength="29.2" lengthAdjust="spacingAndGlyphs">(4417176 (290490))</text>
<text x="677.3" y="223.3" font-size="4.5" fill="#333" textLength="4.9" lengthAdjust="spacingAndGlyphs">(L)</text>
<text x="662" y="234.5" font-size="4.5" fill="#333" textLength="6" lengthAdjust="spacingAndGlyphs">ARM</text>
<text x="703" y="234.5" font-size="4.5" fill="#333" textLength="9" lengthAdjust="spacingAndGlyphs">SWING</text>
<text x="652" y="240.5" font-size="4.2" fill="#666" textLength="12.5" lengthAdjust="spacingAndGlyphs">ROLL-IN</text>
<text x="672.5" y="240.5" font-size="4.2" fill="#666" textLength="13.5" lengthAdjust="spacingAndGlyphs">ROLL-OUT</text>
<text x="694" y="240.5" font-size="4.2" fill="#666" textLength="9.5" lengthAdjust="spacingAndGlyphs">RIGHT</text>
<text x="712" y="240.5" font-size="4.2" fill="#666" textLength="8" lengthAdjust="spacingAndGlyphs">LEFT</text>
<text x="753.5" y="224" font-size="4.5" fill="#333" textLength="24.9" lengthAdjust="spacingAndGlyphs">PILOT VALVE (R)</text>
<text x="753.5" y="229.4" font-size="4.5" fill="#333" textLength="29.9" lengthAdjust="spacingAndGlyphs">(4417176 (290490))</text>
<text x="750.5" y="234.5" font-size="4.5" fill="#333" textLength="7.5" lengthAdjust="spacingAndGlyphs">BOOM</text>
<text x="786" y="234.5" font-size="4.5" fill="#333" textLength="10.5" lengthAdjust="spacingAndGlyphs">BUCKET</text>
<text x="742" y="240.5" font-size="4.2" fill="#666" textLength="9" lengthAdjust="spacingAndGlyphs">RAISE</text>
<text x="759" y="240.5" font-size="4.2" fill="#666" textLength="10" lengthAdjust="spacingAndGlyphs">LOWER</text>
<text x="777" y="240.5" font-size="4.2" fill="#666" textLength="11" lengthAdjust="spacingAndGlyphs">ROLL-IN</text>
<text x="795" y="240.5" font-size="4.2" fill="#666" textLength="13" lengthAdjust="spacingAndGlyphs">ROLL-OUT</text>
<polyline points="665.6,285.4 665.6,365.2 697,365.2 697,447.3" stroke-width="1.2"/>
<polyline points="671.7,285.4 671.7,333.3 758.9,333.3 758.9,343.6"/>
<polyline points="646.5,416 646.5,315.4 743.8,315.4"/>
<polyline points="611,447.3 611,416 646.5,416"/>
<polyline points="656.6,425.2 656.6,352.4 741,352.4 741,365.5 829,365.5 829,435 780.7,435"/>
<polyline points="614.3,425.2 656.6,425.2"/>
<polyline points="706.7,447.3 706.7,308.6 752.5,308.6 752.5,285.4" stroke-width="1.1"/>
<polyline points="758.7,285.4 758.7,316.3"/>
<rect x="742.9" y="322.4" width="10.5" height="15.1" stroke-width="0.9" stroke="#444"/>
<rect x="735" y="320.5" width="6.2" height="6.2" fill="#ababab"/>
<polyline points="737.5,321.5 737.5,325.7" stroke-width="0.8" stroke="#e8e8e8"/>
<polyline points="739.3,321.5 739.3,325.7" stroke-width="0.8" stroke="#e8e8e8"/>
<polyline points="748.2,325 748.2,335"/>
<polyline points="745.5,327 751,327"/>
<circle cx="748.2" cy="327.5" r="1" fill="#1e1e1e" stroke="none"/>
<polyline points="743.8,322.4 743.8,313 771.8,313 771.8,349.9 717.4,349.9 717.4,437.3 775.6,437.3 775.6,447.4"/>
<polyline points="747.8,322.4 747.8,317.3 765,317.3 765,343.6 694.4,343.6 694.4,447.3"/>
<text x="774" y="329.5" font-size="4.5" fill="#333" textLength="20.8" lengthAdjust="spacingAndGlyphs">SHUTTLE VALVE</text>
<text x="777.2" y="334.8" font-size="4.5" fill="#333" textLength="14.4" lengthAdjust="spacingAndGlyphs">(4719463)</text>
<circle cx="665.6" cy="315.4" r="1.1" fill="#1e1e1e" stroke="none"/>
<circle cx="671.7" cy="315.4" r="1.1" fill="#1e1e1e" stroke="none"/>
<circle cx="665.6" cy="327" r="1.1" fill="#1e1e1e" stroke="none"/>
<circle cx="671.7" cy="327" r="1.1" fill="#1e1e1e" stroke="none"/>
<circle cx="706.7" cy="315.4" r="1.1" fill="#1e1e1e" stroke="none"/>
<circle cx="706.7" cy="327" r="1.1" fill="#1e1e1e" stroke="none"/>
<circle cx="706.7" cy="333.3" r="1.1" fill="#1e1e1e" stroke="none"/>
<circle cx="646.5" cy="327" r="1.1" fill="#1e1e1e" stroke="none"/>
<circle cx="694.4" cy="365.2" r="1.1" fill="#1e1e1e" stroke="none"/>
<circle cx="706.7" cy="343.6" r="1.1" fill="#1e1e1e" stroke="none"/>
<circle cx="706.7" cy="349.9" r="1.1" fill="#1e1e1e" stroke="none"/>
<circle cx="665.6" cy="352.4" r="1.1" fill="#1e1e1e" stroke="none"/>
<polyline points="751.5,379.2 751.5,354.7 839.3,354.7 839.3,497.5 667.5,497.5 667.5,435.3 695,435.3"/>
<polyline points="765.7,349.9 765.7,390"/>
<polygon points="751.5,368.5 754,372.5 749,372.5" fill="#1e1e1e" stroke="none"/>
<polyline points="748.5,368.3 754.5,368.3"/>
<text x="748" y="377" font-size="3.8" fill="#666">T</text>
<text x="768" y="377" font-size="3.8" fill="#666">P</text>
<rect x="594.9" y="447.3" width="37.4" height="27.1" stroke-width="0.9" stroke="#333"/>
<rect x="603.6" y="457.3" width="6" height="6" fill="#fff" stroke-width="1.2"/>
<polyline points="604.1,455.8 609.1,455.8" stroke-width="1.5"/>
<polyline points="606.6,453.3 606.6,457.3" stroke-width="1.2"/>
<polygon points="604.6,463.3 608.6,463.3 606.6,466.3" fill="#1e1e1e" stroke="none"/>
<polyline points="603.6,460.3 599.6,460.3 599.6,474.4"/>
<polyline points="603.6,462.8 600.1,462.8 600.1,468.3 599.6,468.3"/>
<circle cx="599.6" cy="468.3" r="1" fill="#1e1e1e" stroke="none"/>
<rect x="617.6" y="457.3" width="6" height="6" fill="#fff" stroke-width="1.2"/>
<polyline points="618.1,455.8 623.1,455.8" stroke-width="1.5"/>
<polyline points="620.6,453.3 620.6,457.3" stroke-width="1.2"/>
<polygon points="618.6,463.3 622.6,463.3 620.6,466.3" fill="#1e1e1e" stroke="none"/>
<polyline points="623.6,460.3 627.6,460.3 627.6,474.4"/>
<polyline points="623.6,462.8 627.1,462.8 627.1,468.3 627.6,468.3"/>
<circle cx="627.6" cy="468.3" r="1" fill="#1e1e1e" stroke="none"/>
<polyline points="609.6,460.3 617.6,460.3" stroke-width="1.2"/>
<polyline points="611,447.3 611,460.3"/>
<polyline points="614.3,447.3 614.3,460.3"/>
<circle cx="599" cy="480" r="3.1" fill="#fff"/>
<polyline points="598.2,480 599.8,480" stroke-width="0.6" stroke="#666"/>
<circle cx="626.8" cy="480" r="3.1" fill="#fff"/>
<polyline points="626,480 627.6,480" stroke-width="0.6" stroke="#666"/>
<polyline points="599.6,474.4 599.6,477"/>
<polyline points="627.6,474.4 627.6,477"/>
<rect x="604.7" y="432.5" width="6.3" height="6.3" fill="#ababab"/>
<polyline points="607.2,433.5 607.2,437.8" stroke-width="0.8" stroke="#e8e8e8"/>
<polyline points="609.1,433.5 609.1,437.8" stroke-width="0.8" stroke="#e8e8e8"/>
<rect x="615.2" y="432.5" width="6.3" height="6.3" fill="#ababab"/>
<polyline points="617.7,433.5 617.7,437.8" stroke-width="0.8" stroke="#e8e8e8"/>
<polyline points="619.6,433.5 619.6,437.8" stroke-width="0.8" stroke="#e8e8e8"/>
<text x="607.5" y="445.5" font-size="3.8" fill="#555">T</text>
<text x="616.5" y="445.5" font-size="3.8" fill="#555">P</text>
<text x="633.5" y="449" font-size="4.5" fill="#333" textLength="18.7" lengthAdjust="spacingAndGlyphs">PILOT VALVE</text>
<text x="633.5" y="454.3" font-size="4.5" fill="#333" textLength="15.3" lengthAdjust="spacingAndGlyphs">(FOR AUX)</text>
<text x="633.5" y="459.6" font-size="4.5" fill="#333" textLength="15.3" lengthAdjust="spacingAndGlyphs">(4672182)</text>
<text x="633.5" y="464.9" font-size="4.5" fill="#333" textLength="15.3" lengthAdjust="spacingAndGlyphs">(9745236)</text>
<polyline points="573.4,457.4 573.4,457.4"/>
<rect x="677.8" y="447.3" width="36.3" height="27.1" stroke-width="0.9" stroke="#333"/>
<rect x="686" y="457.3" width="6" height="6" fill="#fff" stroke-width="1.2"/>
<polyline points="686.5,455.8 691.5,455.8" stroke-width="1.5"/>
<polyline points="689,453.3 689,457.3" stroke-width="1.2"/>
<polygon points="687,463.3 691,463.3 689,466.3" fill="#1e1e1e" stroke="none"/>
<polyline points="686,460.3 682,460.3 682,474.4"/>
<polyline points="686,462.8 682.5,462.8 682.5,468.3 682,468.3"/>
<circle cx="682" cy="468.3" r="1" fill="#1e1e1e" stroke="none"/>
<rect x="700" y="457.3" width="6" height="6" fill="#fff" stroke-width="1.2"/>
<polyline points="700.5,455.8 705.5,455.8" stroke-width="1.5"/>
<polyline points="703,453.3 703,457.3" stroke-width="1.2"/>
<polygon points="701,463.3 705,463.3 703,466.3" fill="#1e1e1e" stroke="none"/>
<polyline points="706,460.3 710,460.3 710,474.4"/>
<polyline points="706,462.8 709.5,462.8 709.5,468.3 710,468.3"/>
<circle cx="710" cy="468.3" r="1" fill="#1e1e1e" stroke="none"/>
<polyline points="692,460.3 700,460.3" stroke-width="1.2"/>
<polyline points="694.4,447.3 694.4,460.3"/>
<polyline points="697.7,447.3 697.7,460.3"/>
<polyline points="707.3,380 707.3,435.3 695,435.3"/>
<circle cx="681.9" cy="484.7" r="3.1" fill="#fff"/>
<polyline points="681.1,484.7 682.7,484.7" stroke-width="0.6" stroke="#666"/>
<circle cx="710" cy="484.7" r="3.1" fill="#fff"/>
<polyline points="709.2,484.7 710.8,484.7" stroke-width="0.6" stroke="#666"/>
<rect x="678.5" y="475" width="6" height="6" fill="#ababab"/>
<polyline points="680.9,476 680.9,480" stroke-width="0.8" stroke="#e8e8e8"/>
<polyline points="682.7,476 682.7,480" stroke-width="0.8" stroke="#e8e8e8"/>
<rect x="707" y="475" width="6" height="6" fill="#ababab"/>
<polyline points="709.4,476 709.4,480" stroke-width="0.8" stroke="#e8e8e8"/>
<polyline points="711.2,476 711.2,480" stroke-width="0.8" stroke="#e8e8e8"/>
<rect x="687.6" y="414" width="6.3" height="6.3" fill="#ababab"/>
<polyline points="690.1,415 690.1,419.3" stroke-width="0.8" stroke="#e8e8e8"/>
<polyline points="692,415 692,419.3" stroke-width="0.8" stroke="#e8e8e8"/>
<rect x="681" y="428.8" width="6.3" height="6.3" fill="#ababab"/>
<polyline points="683.5,429.8 683.5,434.1" stroke-width="0.8" stroke="#e8e8e8"/>
<polyline points="685.4,429.8 685.4,434.1" stroke-width="0.8" stroke="#e8e8e8"/>
<text x="691" y="445.5" font-size="3.8" fill="#555">T</text>
<text x="700" y="445.5" font-size="3.8" fill="#555">P</text>
<text x="675" y="492.5" font-size="4.4" fill="#333" textLength="10.5" lengthAdjust="spacingAndGlyphs">LOWER</text>
<text x="704" y="492.5" font-size="4.4" fill="#333" textLength="9" lengthAdjust="spacingAndGlyphs">RAISE</text>
<text x="716" y="449" font-size="4.5" fill="#333" textLength="18.7" lengthAdjust="spacingAndGlyphs">PILOT VALVE</text>
<text x="716" y="454.3" font-size="4.5" fill="#333" textLength="18.7" lengthAdjust="spacingAndGlyphs">(FOR BLADE)</text>
<text x="716" y="459.6" font-size="4.5" fill="#333" textLength="15.3" lengthAdjust="spacingAndGlyphs">(4372491)</text>
<text x="716" y="464.9" font-size="4.5" fill="#333" textLength="15.3" lengthAdjust="spacingAndGlyphs">(4372493)</text>
<rect x="759.4" y="447.4" width="35.6" height="27.6" stroke-width="0.9" stroke="#333"/>
<rect x="767.2" y="457.4" width="6" height="6" fill="#fff" stroke-width="1.2"/>
<polyline points="767.7,455.9 772.7,455.9" stroke-width="1.5"/>
<polyline points="770.2,453.4 770.2,457.4" stroke-width="1.2"/>
<polygon points="768.2,463.4 772.2,463.4 770.2,466.4" fill="#1e1e1e" stroke="none"/>
<polyline points="767.2,460.4 763.2,460.4 763.2,475"/>
<polyline points="767.2,462.9 763.7,462.9 763.7,468.4 763.2,468.4"/>
<circle cx="763.2" cy="468.4" r="1" fill="#1e1e1e" stroke="none"/>
<rect x="781.2" y="457.4" width="6" height="6" fill="#fff" stroke-width="1.2"/>
<polyline points="781.7,455.9 786.7,455.9" stroke-width="1.5"/>
<polyline points="784.2,453.4 784.2,457.4" stroke-width="1.2"/>
<polygon points="782.2,463.4 786.2,463.4 784.2,466.4" fill="#1e1e1e" stroke="none"/>
<polyline points="787.2,460.4 791.2,460.4 791.2,475"/>
<polyline points="787.2,462.9 790.7,462.9 790.7,468.4 791.2,468.4"/>
<circle cx="791.2" cy="468.4" r="1" fill="#1e1e1e" stroke="none"/>
<polyline points="773.2,460.4 781.2,460.4" stroke-width="1.2"/>
<polyline points="775.6,447.4 775.6,460.4"/>
<polyline points="779,435 779,460.4"/>
<circle cx="763" cy="480.2" r="3.1" fill="#fff"/>
<polyline points="762.2,480.2 763.8,480.2" stroke-width="0.6" stroke="#666"/>
<circle cx="791.2" cy="480.2" r="3.1" fill="#fff"/>
<polyline points="790.4,480.2 792,480.2" stroke-width="0.6" stroke="#666"/>
<rect x="773" y="429" width="6.3" height="6.3" fill="#ababab"/>
<polyline points="775.5,430 775.5,434.3" stroke-width="0.8" stroke="#e8e8e8"/>
<polyline points="777.4,430 777.4,434.3" stroke-width="0.8" stroke="#e8e8e8"/>
<rect x="762.3" y="438" width="6.3" height="6.3" fill="#ababab"/>
<polyline points="764.8,439 764.8,443.3" stroke-width="0.8" stroke="#e8e8e8"/>
<polyline points="766.7,439 766.7,443.3" stroke-width="0.8" stroke="#e8e8e8"/>
<text x="772" y="445.5" font-size="3.8" fill="#555">T</text>
<text x="781" y="445.5" font-size="3.8" fill="#555">P</text>
<text x="762" y="490.5" font-size="4.4" fill="#333">L</text>
<text x="790.5" y="490.5" font-size="4.4" fill="#333">R</text>
<text x="797.5" y="449" font-size="4.5" fill="#333" textLength="17.8" lengthAdjust="spacingAndGlyphs">PILOT VALVE</text>
<text x="797.5" y="454.3" font-size="4.5" fill="#333" textLength="25.9" lengthAdjust="spacingAndGlyphs">(FOR BOOM-SWING)</text>
<text x="800.7" y="459.6" font-size="4.5" fill="#333" textLength="14.6" lengthAdjust="spacingAndGlyphs">(4667497)</text>
<text x="800.7" y="464.9" font-size="4.5" fill="#333" textLength="14.6" lengthAdjust="spacingAndGlyphs">(9734703)</text>
<rect x="723" y="379.2" width="70.6" height="35.4" stroke-width="0.9" stroke="#333"/>
<rect x="731" y="392.5" width="6" height="6" fill="#fff" stroke-width="1.2"/>
<polyline points="731.5,391 736.5,391" stroke-width="1.5"/>
<polyline points="732.5,388.5 735.5,388.5" stroke-width="1.2"/>
<polygon points="732,398.5 736,398.5 734,401.5" fill="#1e1e1e" stroke="none"/>
<rect x="745.3" y="392.5" width="6" height="6" fill="#fff" stroke-width="1.2"/>
<polyline points="745.8,391 750.8,391" stroke-width="1.5"/>
<polyline points="746.8,388.5 749.8,388.5" stroke-width="1.2"/>
<polygon points="746.3,398.5 750.3,398.5 748.3,401.5" fill="#1e1e1e" stroke="none"/>
<rect x="765.6" y="392.5" width="6" height="6" fill="#fff" stroke-width="1.2"/>
<polyline points="766.1,391 771.1,391" stroke-width="1.5"/>
<polyline points="767.1,388.5 770.1,388.5" stroke-width="1.2"/>
<polygon points="766.6,398.5 770.6,398.5 768.6,401.5" fill="#1e1e1e" stroke="none"/>
<rect x="779.4" y="392.5" width="6" height="6" fill="#fff" stroke-width="1.2"/>
<polyline points="779.9,391 784.9,391" stroke-width="1.5"/>
<polyline points="780.9,388.5 783.9,388.5" stroke-width="1.2"/>
<polygon points="780.4,398.5 784.4,398.5 782.4,401.5" fill="#1e1e1e" stroke="none"/>
<polyline points="751.5,379.2 751.5,387.5"/>
<polyline points="739.6,392.5 739.6,387.5 777,387.5 777,392.5"/>
<polyline points="765.7,390 743,390 743,392.5"/>
<polyline points="765.7,390 773,390 773,392.5"/>
<polyline points="731,395.5 727.3,395.5 727.3,416.3"/>
<polyline points="731,398 729.1,398 729.1,404 727.3,404"/>
<polyline points="751.3,395.5 755,395.5 755,416.3"/>
<polyline points="751.3,398 753.1,398 753.1,404 755,404"/>
<polyline points="765.6,395.5 761.4,395.5 761.4,416.3"/>
<polyline points="765.6,398 763.5,398 763.5,404 761.4,404"/>
<polyline points="785.4,395.5 789,395.5 789,416.3"/>
<polyline points="785.4,398 787.2,398 787.2,404 789,404"/>
<polyline points="737,395.5 745.3,395.5" stroke-width="1.2"/>
<polyline points="771.6,395.5 779.4,395.5" stroke-width="1.2"/>
<circle cx="727.3" cy="419.4" r="3.1" fill="#fff"/>
<polyline points="726.5,419.4 728.1,419.4" stroke-width="0.6" stroke="#666"/>
<circle cx="755" cy="419.4" r="3.1" fill="#fff"/>
<polyline points="754.2,419.4 755.8,419.4" stroke-width="0.6" stroke="#666"/>
<circle cx="761.4" cy="419.4" r="3.1" fill="#fff"/>
<polyline points="760.6,419.4 762.2,419.4" stroke-width="0.6" stroke="#666"/>
<circle cx="789" cy="419.4" r="3.1" fill="#fff"/>
<polyline points="788.2,419.4 789.8,419.4" stroke-width="0.6" stroke="#666"/>
<text x="725.5" y="428.5" font-size="4" fill="#777" textLength="4" lengthAdjust="spacingAndGlyphs">LR</text>
<text x="752.5" y="428.5" font-size="4" fill="#777" textLength="4" lengthAdjust="spacingAndGlyphs">LF</text>
<text x="759.8" y="428.5" font-size="4" fill="#777" textLength="4" lengthAdjust="spacingAndGlyphs">RR</text>
<text x="787.5" y="428.5" font-size="4" fill="#777" textLength="4" lengthAdjust="spacingAndGlyphs">RF</text>
<text x="796" y="389.5" font-size="4.5" fill="#333" textLength="18.7" lengthAdjust="spacingAndGlyphs">PILOT VALVE</text>
<text x="796" y="394.8" font-size="4.5" fill="#333" textLength="20.4" lengthAdjust="spacingAndGlyphs">(FOR TRAVEL)</text>
<text x="796" y="400.1" font-size="4.5" fill="#333" textLength="15.3" lengthAdjust="spacingAndGlyphs">(4372490)</text>
<text x="796" y="405.4" font-size="4.5" fill="#333" textLength="15.3" lengthAdjust="spacingAndGlyphs">(4372494)</text>
<rect x="624.3" y="536.4" width="39.3" height="19.9" stroke-width="0.9" stroke="#333"/>
<circle cx="636.9" cy="526.8" r="3.1" fill="#fff"/>
<polyline points="636.1,526.8 637.7,526.8" stroke-width="0.6" stroke="#666"/>
<polyline points="636.9,529.9 636.9,540"/>
<rect x="632.3" y="540" width="17.7" height="10.2" fill="#fff" stroke-width="1.2"/>
<polyline points="641.1,540 641.1,550.2" stroke-width="1.2"/>
<rect x="650" y="546.3" width="10" height="3.9" fill="#fff" stroke-width="1.1"/>
<polyline points="634.3,549 636.3,541.5 639.3,541.5" stroke-width="1.1"/>
<polyline points="642.8,549 645.3,541.5 648.3,549" stroke-width="1.1"/>
<path d="M632.3,548 q-1,-7 -3,-3 q-1.5,4 -2.5,-1" fill="none"/>
<polyline points="632.3,553 632.3,562.5"/>
<polyline points="641.5,550.2 641.5,562.5"/>
<polyline points="632.3,553 636.9,553 636.9,550.2"/>
<circle cx="632.3" cy="565.5" r="3.1" fill="#fff"/>
<polyline points="631.5,565.5 633.1,565.5" stroke-width="0.6" stroke="#666"/>
<circle cx="641.5" cy="565.5" r="3.1" fill="#fff"/>
<polyline points="640.7,565.5 642.3,565.5" stroke-width="0.6" stroke="#666"/>
<text x="633.3" y="535" font-size="3.6" fill="#666">A</text>
<text x="629.3" y="560" font-size="3.4" fill="#666">P</text>
<text x="643.8" y="560" font-size="3.4" fill="#666">T</text>
<rect x="705.4" y="536.4" width="39.3" height="19.9" stroke-width="0.9" stroke="#333"/>
<circle cx="718" cy="526.8" r="3.1" fill="#fff"/>
<polyline points="717.2,526.8 718.8,526.8" stroke-width="0.6" stroke="#666"/>
<polyline points="718,529.9 718,540"/>
<rect x="713.4" y="540" width="17.7" height="10.2" fill="#fff" stroke-width="1.2"/>
<polyline points="722.2,540 722.2,550.2" stroke-width="1.2"/>
<rect x="731.1" y="546.3" width="10" height="3.9" fill="#fff" stroke-width="1.1"/>
<polyline points="715.4,549 717.4,541.5 720.4,541.5" stroke-width="1.1"/>
<polyline points="723.9,549 726.4,541.5 729.4,549" stroke-width="1.1"/>
<path d="M713.4,548 q-1,-7 -3,-3 q-1.5,4 -2.5,-1" fill="none"/>
<polyline points="713.4,553 713.4,562.5"/>
<polyline points="722.6,550.2 722.6,562.5"/>
<polyline points="713.4,553 718,553 718,550.2"/>
<circle cx="713.4" cy="565.5" r="3.1" fill="#fff"/>
<polyline points="712.6,565.5 714.2,565.5" stroke-width="0.6" stroke="#666"/>
<circle cx="722.6" cy="565.5" r="3.1" fill="#fff"/>
<polyline points="721.8,565.5 723.4,565.5" stroke-width="0.6" stroke="#666"/>
<text x="714.4" y="535" font-size="3.6" fill="#666">A</text>
<text x="710.4" y="560" font-size="3.4" fill="#666">P</text>
<text x="724.9" y="560" font-size="3.4" fill="#666">T</text>
<text x="617" y="574.5" font-size="4.5" fill="#333" textLength="20.7" lengthAdjust="spacingAndGlyphs">SOLENOID VALVE</text>
<text x="618.5" y="579.8" font-size="4.5" fill="#333" textLength="35.5" lengthAdjust="spacingAndGlyphs">(FOR AUX. FLOW COMBINER)</text>
<text x="622.9" y="585.1" font-size="4.5" fill="#333" textLength="13.3" lengthAdjust="spacingAndGlyphs">(4674457)</text>
<text x="697" y="574" font-size="4.5" fill="#333" textLength="24.1" lengthAdjust="spacingAndGlyphs">SOLENOID VALVE</text>
<text x="698.7" y="579.3" font-size="4.5" fill="#333" textLength="53.3" lengthAdjust="spacingAndGlyphs">(FOR AIR-CONDITIONER W/C  MODE)</text>
<text x="703.9" y="584.6" font-size="4.5" fill="#333" textLength="15.5" lengthAdjust="spacingAndGlyphs">(4674457)</text>
<g stroke="none">
<path fill-rule="evenodd" fill="#808080" fill-opacity="0.4" d="M285,238.8 h288.5 v126.5 h-288.5 z M307.3,247.5 v108.5 h244 v-108.5 z"/>
<path fill-rule="evenodd" fill="#7082e3" fill-opacity="0.4" d="M352.4,264.3 h154.6 v69.7 h-154.6 z M400,289 h29.5 v27 h-29.5 z M440,283 L503,270 v6 L440,290 z M440,296 L503,283 v6 L440,303 z M366,300 L398,292 v7 L366,308 z"/>
<rect x="352.4" y="264.3" width="12" height="69.7" fill="#7082e3" fill-opacity="0.12"/>
<rect x="352.4" y="334" width="154.6" height="17" fill="#7082e3" fill-opacity="0.14"/>
<rect x="360" y="343.5" width="135" height="8.5" fill="#f0b090" fill-opacity="0.22"/>
</g>
<text x="346" y="263" font-size="13" fill="#f0a090" fill-opacity="0.45" font-family="'Liberation Sans','Noto Sans CJK SC',sans-serif" stroke="none">红日</text>
<text x="362" y="350.5" font-size="6" fill="#ee9a70" fill-opacity="0.45" textLength="130" stroke="none" font-family="'Liberation Sans','Noto Sans CJK SC',sans-serif">红日机械 挖掘机维修资料下载 红日机械</text>
</svg>
</body></html>
